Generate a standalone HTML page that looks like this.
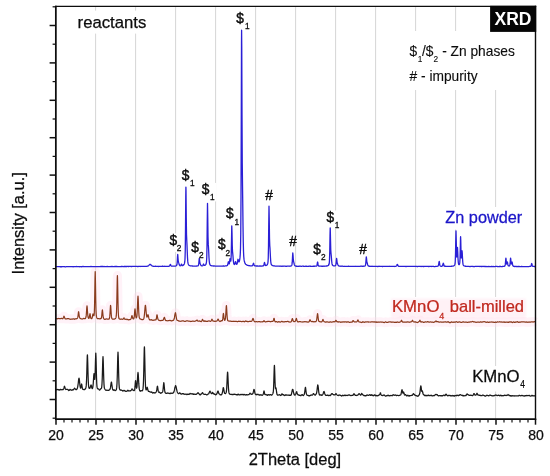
<!DOCTYPE html>
<html><head><meta charset="utf-8"><title>XRD</title>
<style>
html,body{margin:0;padding:0;background:#fff;}
svg{display:block;font-family:"Liberation Sans",Arial,sans-serif;}
text{stroke-width:0.25px;paint-order:stroke;}
.k{fill:#0c0c0c;stroke:#0c0c0c;}
.lb{font-size:13.75px;fill:#0c0c0c;stroke:#0c0c0c;}
.pk .lb{stroke-width:0.4px;}
.lg .lb,.lg .sb{stroke-width:0.12px;}
.sb{font-size:8.3px;fill:#0c0c0c;stroke:#0c0c0c;}
.pk .sb{stroke-width:0.3px;}
</style></head><body>
<svg width="550" height="476" viewBox="0 0 550 476">
<defs><filter id="bl" x="-5%" y="-20%" width="110%" height="140%"><feGaussianBlur stdDeviation="1.2"/></filter></defs>
<rect x="0" y="0" width="550" height="476" fill="#fff"/>
<g stroke="#d6d6d6" stroke-width="1" fill="none"><line x1="95.6" y1="6.4" x2="95.6" y2="419.1"/><line x1="135.6" y1="6.4" x2="135.6" y2="419.1"/><line x1="175.6" y1="6.4" x2="175.6" y2="419.1"/><line x1="215.6" y1="6.4" x2="215.6" y2="419.1"/><line x1="255.6" y1="6.4" x2="255.6" y2="419.1"/><line x1="295.6" y1="6.4" x2="295.6" y2="419.1"/><line x1="335.6" y1="6.4" x2="335.6" y2="419.1"/><line x1="375.6" y1="6.4" x2="375.6" y2="419.1"/><line x1="415.6" y1="6.4" x2="415.6" y2="419.1"/><line x1="455.6" y1="6.4" x2="455.6" y2="419.1"/><line x1="495.6" y1="6.4" x2="495.6" y2="419.1"/></g>
<rect x="76" y="10.6" width="74" height="23" fill="#fff"/>
<rect x="404" y="31" width="131" height="59" fill="#fff"/>
<rect x="443" y="207" width="82" height="22.5" fill="#fff"/>
<rect x="390" y="297" width="138" height="24" fill="#fff"/>
<rect x="391" y="298.5" width="135" height="20" fill="#ffe4ef" opacity="0.5" filter="url(#bl)"/>
<rect x="470" y="366" width="58" height="25.5" fill="#fff"/>
<rect x="235.3" y="11.2" width="16.2" height="18.3" fill="#fff"/><rect x="180.8" y="168.0" width="15.7" height="18.5" fill="#fff"/><rect x="200.8" y="182.9" width="15.7" height="18.5" fill="#fff"/><rect x="225.0" y="206.9" width="16.0" height="19.4" fill="#fff"/><rect x="325.5" y="210.5" width="15.8" height="18.3" fill="#fff"/><rect x="168.5" y="233.4" width="14.8" height="18.5" fill="#fff"/><rect x="190.3" y="240.1" width="15.3" height="18.7" fill="#fff"/><rect x="217.0" y="237.8" width="15.0" height="18.7" fill="#fff"/><rect x="312.3" y="242.0" width="15.2" height="18.6" fill="#fff"/>
<path d="M56.00 318.51L56.25 318.58L56.50 318.60L56.75 318.60L57.00 318.55L57.25 318.83L57.50 318.75L57.75 318.68L58.00 318.53L58.25 318.50L58.50 318.41L58.75 318.55L59.00 318.52L59.25 318.52L59.50 318.62L59.75 318.56L60.00 318.50L60.25 318.55L60.50 318.74L60.75 318.57L61.00 318.46L61.25 318.34L61.50 318.36L61.75 318.39L62.00 318.65L62.25 318.62L62.50 318.79L62.75 318.70L63.00 318.47L63.25 318.14L63.50 317.50L63.75 316.56L64.00 316.21L64.25 316.60L64.50 317.27L64.75 318.14L65.00 318.52L65.25 318.81L65.50 318.84L65.75 318.91L66.00 318.81L66.25 319.00L66.50 318.85L66.75 318.97L67.00 318.73L67.25 318.77L67.50 318.54L67.75 318.62L68.00 318.49L68.25 318.53L68.50 318.55L68.75 318.76L69.00 318.79L69.25 318.89L69.50 319.05L69.75 319.14L70.00 319.16L70.25 319.19L70.50 319.34L70.75 319.24L71.00 319.20L71.25 319.01L71.50 319.19L71.75 319.00L72.00 319.06L72.25 319.11L72.50 319.20L72.75 318.91L73.00 318.77L73.25 318.74L73.50 318.79L73.75 318.83L74.00 319.05L74.25 319.29L74.50 319.27L74.75 318.96L75.00 318.93L75.25 318.82L75.50 318.72L75.75 318.77L76.00 318.93L76.25 318.89L76.50 318.68L76.75 318.63L77.00 318.61L77.25 318.37L77.50 318.04L77.75 317.40L78.00 315.99L78.25 313.75L78.50 311.92L78.60 311.69L78.75 312.26L79.00 314.32L79.25 316.32L79.50 317.41L79.75 318.00L80.00 318.16L80.25 318.33L80.50 318.51L80.75 318.71L81.00 318.86L81.25 318.83L81.50 318.90L81.75 318.95L82.00 319.01L82.25 318.95L82.50 319.04L82.75 318.93L83.00 318.74L83.25 318.64L83.50 318.53L83.75 318.37L84.00 318.44L84.25 318.58L84.50 318.64L84.75 318.69L85.00 318.77L85.25 318.66L85.50 318.40L85.75 317.75L86.00 317.06L86.25 315.16L86.50 311.79L86.75 307.76L87.00 305.78L87.25 307.66L87.50 311.64L87.75 314.81L88.00 316.75L88.25 317.76L88.50 318.22L88.75 318.34L89.00 318.30L89.25 317.69L89.50 316.58L89.75 314.69L90.00 313.70L90.25 314.76L90.50 316.55L90.75 317.82L91.00 318.44L91.25 318.66L91.50 318.59L91.75 318.60L92.00 318.23L92.25 317.47L92.50 316.16L92.75 314.76L93.00 313.85L93.25 314.26L93.50 315.26L93.75 315.76L94.00 315.65L94.25 313.63L94.50 307.20L94.75 294.08L95.00 277.93L95.20 271.59L95.25 271.83L95.50 283.89L95.75 300.09L96.00 310.27L96.25 314.79L96.50 316.69L96.75 317.54L97.00 318.10L97.25 318.55L97.50 318.72L97.75 318.75L98.00 318.74L98.25 318.59L98.50 318.58L98.75 318.62L99.00 318.62L99.25 318.71L99.50 318.83L99.75 318.96L100.00 318.91L100.25 318.75L100.50 318.62L100.75 318.71L101.00 318.56L101.25 318.20L101.50 317.49L101.75 315.79L102.00 312.91L102.25 310.32L102.40 309.86L102.50 310.25L102.75 312.51L103.00 315.31L103.25 317.25L103.50 318.24L103.75 318.69L104.00 318.85L104.25 319.18L104.50 319.32L104.75 319.46L105.00 319.32L105.25 319.38L105.50 319.16L105.75 319.13L106.00 318.86L106.25 318.99L106.50 318.88L106.75 318.96L107.00 319.04L107.25 319.20L107.50 319.13L107.75 319.24L108.00 319.15L108.25 319.05L108.50 319.07L108.75 319.05L109.00 319.06L109.25 318.80L109.50 318.06L109.75 316.39L110.00 313.29L110.25 309.01L110.50 305.57L110.60 305.40L110.75 306.32L111.00 310.36L111.25 314.20L111.50 316.91L111.75 318.16L112.00 318.70L112.25 318.74L112.50 319.05L112.75 319.10L113.00 319.07L113.25 319.09L113.50 319.22L113.75 319.21L114.00 319.21L114.25 319.16L114.50 319.12L114.75 318.89L115.00 318.81L115.25 318.59L115.50 318.44L115.75 317.99L116.00 317.43L116.25 315.96L116.50 312.35L116.75 304.49L117.00 291.60L117.25 278.41L117.40 275.52L117.50 276.97L117.75 288.79L118.00 302.53L118.25 311.70L118.50 315.86L118.75 317.73L119.00 318.48L119.25 318.71L119.50 318.81L119.75 319.10L120.00 319.11L120.25 319.24L120.50 319.30L120.75 319.12L121.00 319.09L121.25 318.98L121.50 318.97L121.75 319.03L122.00 319.25L122.25 319.31L122.50 319.28L122.75 319.24L123.00 319.17L123.25 319.04L123.50 318.54L123.75 318.11L124.00 317.82L124.25 318.26L124.50 318.59L124.75 319.03L125.00 319.38L125.25 319.46L125.50 319.28L125.75 319.22L126.00 319.15L126.25 319.20L126.50 319.33L126.75 319.24L127.00 319.55L127.25 319.52L127.50 319.38L127.75 319.50L128.00 319.71L128.25 319.58L128.50 319.83L128.75 319.90L129.00 319.78L129.25 319.68L129.50 319.67L129.75 319.51L130.00 319.59L130.25 319.47L130.50 319.45L130.75 319.15L131.00 318.74L131.25 318.12L131.50 317.16L131.75 315.98L132.00 315.61L132.25 316.29L132.50 317.35L132.75 318.28L133.00 318.63L133.25 318.80L133.50 318.91L133.75 318.73L134.00 318.03L134.25 316.61L134.50 313.83L134.75 310.55L135.00 308.84L135.25 310.42L135.50 313.58L135.75 316.18L136.00 317.46L136.25 317.84L136.50 317.78L136.75 316.89L137.00 315.14L137.25 311.48L137.50 305.63L137.75 299.15L138.00 296.13L138.25 299.41L138.50 305.88L138.75 311.84L139.00 315.62L139.25 317.50L139.50 318.14L139.75 318.66L140.00 318.83L140.25 318.86L140.50 318.90L140.75 319.13L141.00 319.28L141.25 319.30L141.50 319.44L141.75 319.67L142.00 319.70L142.25 319.49L142.50 319.55L142.75 319.51L143.00 319.54L143.25 319.32L143.50 319.20L143.75 318.74L144.00 317.85L144.25 316.06L144.50 313.85L144.75 311.03L145.00 307.90L145.25 305.67L145.40 305.26L145.50 305.45L145.75 307.21L146.00 310.21L146.25 313.05L146.50 315.32L146.75 316.62L147.00 317.10L147.25 316.74L147.50 316.07L147.75 315.01L148.00 314.68L148.25 315.26L148.50 316.49L148.75 317.66L149.00 318.68L149.25 319.23L149.50 319.46L149.75 319.88L150.00 320.05L150.25 320.02L150.50 319.91L150.75 320.01L151.00 319.84L151.25 319.61L151.50 319.73L151.75 319.81L152.00 320.12L152.25 320.10L152.50 320.16L152.75 320.32L153.00 320.42L153.25 320.19L153.50 320.22L153.75 320.31L154.00 320.11L154.25 320.10L154.50 320.05L154.75 319.93L155.00 319.84L155.25 319.86L155.50 319.94L155.75 319.90L156.00 319.70L156.25 319.03L156.50 317.74L156.75 315.71L157.00 314.74L157.25 315.52L157.50 317.08L157.75 318.32L158.00 319.22L158.25 319.57L158.50 319.89L158.75 320.22L159.00 320.36L159.25 320.44L159.50 320.44L159.75 320.61L160.00 320.63L160.25 320.56L160.50 320.49L160.75 320.59L161.00 320.52L161.25 320.39L161.50 320.54L161.75 320.49L162.00 320.41L162.25 320.40L162.50 320.37L162.75 320.25L163.00 320.27L163.25 320.08L163.50 319.46L163.75 318.85L164.00 318.02L164.25 317.33L164.40 317.27L164.50 317.58L164.75 318.22L165.00 319.05L165.25 319.88L165.50 320.33L165.75 320.48L166.00 320.61L166.25 320.77L166.50 320.76L166.75 320.70L167.00 320.76L167.25 320.80L167.50 320.72L167.75 320.81L168.00 320.72L168.25 320.75L168.50 320.67L168.75 320.62L169.00 320.54L169.25 320.55L169.50 320.41L169.75 320.40L170.00 320.41L170.25 320.37L170.50 320.58L170.75 320.61L171.00 320.78L171.25 320.72L171.50 320.87L171.75 320.73L172.00 320.73L172.25 320.65L172.50 320.73L172.75 320.50L173.00 320.33L173.25 320.35L173.50 320.22L173.75 319.87L174.00 319.25L174.25 318.57L174.50 317.38L174.75 315.66L175.00 314.05L175.25 313.06L175.40 312.76L175.50 312.73L175.75 313.83L176.00 315.51L176.25 317.13L176.50 318.58L176.75 319.63L177.00 320.19L177.25 320.27L177.50 320.44L177.75 320.51L178.00 320.55L178.25 320.61L178.50 321.02L178.75 320.89L179.00 320.95L179.25 321.00L179.50 321.16L179.75 321.14L180.00 321.34L180.25 321.31L180.50 321.25L180.75 321.24L181.00 321.16L181.25 321.20L181.50 321.08L181.75 320.98L182.00 320.92L182.25 320.94L182.50 320.74L182.75 320.76L183.00 320.87L183.25 320.89L183.50 320.88L183.75 321.10L184.00 321.18L184.25 321.25L184.50 321.33L184.75 321.29L185.00 321.40L185.25 321.39L185.50 321.36L185.75 321.10L186.00 321.11L186.25 320.88L186.50 320.86L186.75 320.87L187.00 320.94L187.25 320.97L187.50 320.85L187.75 320.87L188.00 320.96L188.25 321.07L188.50 321.10L188.75 321.20L189.00 321.13L189.25 321.13L189.50 321.21L189.75 321.24L190.00 321.32L190.25 321.53L190.50 321.38L190.75 321.35L191.00 321.33L191.25 321.26L191.50 321.28L191.75 321.33L192.00 321.34L192.25 321.16L192.50 321.14L192.75 320.98L193.00 321.01L193.25 321.04L193.50 321.21L193.75 321.30L194.00 321.38L194.25 321.32L194.50 321.23L194.75 321.23L195.00 321.18L195.25 321.15L195.50 321.03L195.75 320.92L196.00 320.86L196.25 320.68L196.50 320.38L196.75 320.16L197.00 320.03L197.25 320.29L197.50 320.75L197.75 320.97L198.00 321.09L198.25 321.20L198.50 320.98L198.75 321.05L199.00 321.10L199.25 321.01L199.50 320.91L199.75 321.16L200.00 321.08L200.25 321.27L200.50 321.41L200.75 321.52L201.00 321.54L201.25 321.64L201.50 321.22L201.75 320.98L202.00 320.38L202.25 319.72L202.40 319.29L202.50 319.47L202.75 319.71L203.00 320.23L203.25 320.78L203.50 321.20L203.75 321.21L204.00 321.18L204.25 321.30L204.50 320.95L204.75 320.80L205.00 320.88L205.25 321.11L205.50 321.10L205.75 321.37L206.00 321.47L206.25 321.35L206.50 321.28L206.75 321.42L207.00 321.35L207.25 321.36L207.50 321.48L207.75 321.36L208.00 321.12L208.25 320.99L208.50 320.99L208.75 320.91L209.00 320.93L209.25 320.90L209.50 321.09L209.75 321.13L210.00 321.19L210.25 321.28L210.50 321.41L210.75 321.29L211.00 321.12L211.25 320.76L211.50 320.19L211.75 319.50L212.00 319.23L212.25 319.64L212.50 320.18L212.75 320.66L213.00 321.07L213.25 321.24L213.50 321.09L213.75 321.13L214.00 321.19L214.25 321.17L214.50 321.37L214.75 321.37L215.00 321.45L215.25 321.46L215.50 321.44L215.75 321.20L216.00 321.27L216.25 321.14L216.50 321.07L216.75 321.07L217.00 320.89L217.25 320.53L217.50 320.07L217.75 319.38L218.00 319.03L218.25 319.30L218.50 319.90L218.75 320.36L219.00 320.76L219.25 321.04L219.50 321.17L219.75 321.32L220.00 321.54L220.25 321.52L220.50 321.16L220.75 321.09L221.00 321.01L221.25 320.71L221.50 320.67L221.75 320.74L222.00 320.86L222.25 320.71L222.50 320.26L222.75 318.90L223.00 316.63L223.25 314.07L223.40 313.46L223.50 313.48L223.75 315.46L224.00 317.91L224.25 319.46L224.50 320.13L224.75 320.38L225.00 320.07L225.25 319.38L225.50 317.93L225.75 314.96L226.00 310.55L226.25 306.49L226.40 305.49L226.50 305.99L226.75 309.89L227.00 314.53L227.25 317.81L227.50 319.71L227.75 320.48L228.00 320.71L228.25 320.80L228.50 320.92L228.75 321.04L229.00 321.01L229.25 321.06L229.50 321.16L229.75 321.20L230.00 321.10L230.25 321.18L230.50 321.16L230.75 321.15L231.00 321.36L231.25 321.38L231.50 321.29L231.75 321.34L232.00 321.49L232.25 321.41L232.50 321.43L232.75 321.48L233.00 321.54L233.25 321.39L233.50 321.22L233.75 321.31L234.00 321.36L234.25 321.31L234.50 321.38L234.75 321.37L235.00 321.29L235.25 321.28L235.50 321.43L235.75 321.42L236.00 321.52L236.25 321.47L236.50 321.40L236.75 321.41L237.00 321.60L237.25 321.61L237.50 321.53L237.75 321.63L238.00 321.52L238.25 321.35L238.50 321.21L238.75 321.48L239.00 321.34L239.25 321.39L239.50 321.39L239.75 321.49L240.00 321.43L240.25 321.45L240.50 321.33L240.75 321.38L241.00 321.52L241.25 321.52L241.50 321.63L241.75 321.56L242.00 321.67L242.25 321.53L242.50 321.48L242.75 321.31L243.00 321.40L243.25 321.34L243.50 321.35L243.75 321.38L244.00 321.65L244.25 321.81L244.50 321.72L244.75 321.62L245.00 321.36L245.25 321.22L245.50 320.94L245.75 321.03L246.00 320.98L246.25 321.29L246.50 321.32L246.75 321.32L247.00 321.31L247.25 321.54L247.50 321.49L247.75 321.48L248.00 321.68L248.25 321.70L248.50 321.61L248.75 321.57L249.00 321.46L249.25 321.47L249.50 321.30L249.75 321.31L250.00 321.20L250.25 321.38L250.50 321.31L250.75 321.32L251.00 321.33L251.25 321.36L251.50 321.25L251.75 321.05L252.00 320.80L252.25 320.22L252.50 319.39L252.75 318.70L253.00 318.46L253.25 318.68L253.50 319.42L253.75 320.37L254.00 320.95L254.25 321.34L254.50 321.69L254.75 321.70L255.00 321.84L255.25 321.80L255.50 321.67L255.75 321.74L256.00 321.73L256.25 321.63L256.50 321.57L256.75 321.73L257.00 321.72L257.25 321.75L257.50 321.73L257.75 321.87L258.00 321.77L258.25 321.71L258.50 321.74L258.75 321.64L259.00 321.49L259.25 321.53L259.50 321.53L259.75 321.62L260.00 321.72L260.25 321.87L260.50 321.82L260.75 321.92L261.00 321.78L261.25 321.81L261.50 321.74L261.75 321.75L262.00 321.77L262.25 321.89L262.50 321.72L262.75 321.76L263.00 321.71L263.25 321.59L263.50 321.23L263.75 320.94L264.00 320.63L264.25 320.86L264.50 321.16L264.75 321.57L265.00 321.78L265.25 321.85L265.50 321.87L265.75 321.86L266.00 321.74L266.25 321.77L266.50 321.66L266.75 321.76L267.00 321.61L267.25 321.56L267.50 321.29L267.75 321.29L268.00 321.30L268.25 321.34L268.50 321.33L268.75 321.36L269.00 321.39L269.25 321.30L269.50 321.44L269.75 321.53L270.00 321.62L270.25 321.69L270.50 321.78L270.75 321.62L271.00 321.64L271.25 321.54L271.50 321.45L271.75 321.43L272.00 321.50L272.25 321.42L272.50 321.39L272.75 321.41L273.00 321.29L273.25 320.78L273.50 319.91L273.75 318.87L274.00 318.37L274.25 318.72L274.50 320.04L274.75 320.96L275.00 321.52L275.25 321.79L275.50 321.83L275.75 321.58L276.00 321.52L276.25 321.52L276.50 321.58L276.75 321.61L277.00 321.89L277.25 322.05L277.50 322.21L277.75 322.08L278.00 322.04L278.25 321.73L278.50 321.76L278.75 321.60L279.00 321.62L279.25 321.78L279.50 322.01L279.75 322.01L280.00 322.07L280.25 322.06L280.50 322.12L280.75 321.90L281.00 321.74L281.25 321.60L281.50 321.51L281.75 321.30L282.00 321.46L282.25 321.50L282.50 321.77L282.75 321.82L283.00 321.98L283.25 321.87L283.50 321.95L283.75 321.85L284.00 321.85L284.25 321.86L284.50 321.83L284.75 321.72L285.00 321.59L285.25 321.69L285.50 321.58L285.75 321.55L286.00 321.68L286.25 321.75L286.50 321.56L286.75 321.54L287.00 321.58L287.25 321.40L287.50 321.39L287.75 321.40L288.00 321.39L288.25 321.50L288.50 321.74L288.75 321.86L289.00 321.92L289.25 322.07L289.50 321.98L289.75 321.98L290.00 321.88L290.25 321.94L290.50 322.04L290.75 322.12L291.00 321.91L291.25 321.64L291.50 321.22L291.75 320.30L292.00 319.46L292.25 318.63L292.40 318.61L292.50 318.74L292.75 319.50L293.00 320.28L293.25 321.02L293.50 321.35L293.75 321.51L294.00 321.68L294.25 321.60L294.50 321.56L294.75 321.52L295.00 321.41L295.25 321.27L295.50 320.87L295.75 320.15L296.00 319.26L296.25 318.58L296.40 318.43L296.50 318.64L296.75 319.67L297.00 320.66L297.25 321.15L297.50 321.45L297.75 321.81L298.00 321.82L298.25 321.78L298.50 321.77L298.75 321.85L299.00 321.64L299.25 321.54L299.50 321.67L299.75 321.68L300.00 321.56L300.25 321.68L300.50 321.71L300.75 321.76L301.00 321.85L301.25 321.98L301.50 322.02L301.75 321.99L302.00 321.96L302.25 322.07L302.50 322.00L302.75 321.90L303.00 321.93L303.25 321.98L303.50 321.87L303.75 321.84L304.00 321.78L304.25 321.80L304.50 321.57L304.75 321.65L305.00 321.62L305.25 321.62L305.50 321.71L305.75 321.85L306.00 321.81L306.25 321.80L306.50 321.97L306.75 321.91L307.00 321.89L307.25 321.92L307.50 322.09L307.75 322.01L308.00 322.10L308.25 322.12L308.50 322.00L308.75 321.90L309.00 321.77L309.25 321.43L309.50 320.83L309.75 320.13L310.00 319.73L310.25 320.13L310.50 320.55L310.75 321.00L311.00 321.33L311.25 321.53L311.50 321.58L311.75 321.71L312.00 321.71L312.25 321.56L312.50 321.51L312.75 321.42L313.00 321.47L313.25 321.68L313.50 321.78L313.75 321.91L314.00 321.90L314.25 321.85L314.50 321.77L314.75 321.67L315.00 321.73L315.25 321.71L315.50 321.78L315.75 321.65L316.00 321.58L316.25 321.08L316.50 320.54L316.75 319.30L317.00 317.42L317.25 315.38L317.50 313.67L317.60 313.58L317.75 314.27L318.00 316.41L318.25 318.53L318.50 320.25L318.75 321.13L319.00 321.44L319.25 321.58L319.50 321.59L319.75 321.62L320.00 321.61L320.25 321.69L320.50 321.85L320.75 321.98L321.00 321.98L321.25 322.01L321.50 322.02L321.75 321.72L322.00 321.47L322.25 321.10L322.50 320.63L322.75 319.68L323.00 319.46L323.25 319.92L323.50 320.72L323.75 321.14L324.00 321.46L324.25 321.70L324.50 321.80L324.75 321.77L325.00 321.87L325.25 322.11L325.50 322.03L325.75 322.02L326.00 322.06L326.25 322.03L326.50 321.91L326.75 321.93L327.00 321.94L327.25 321.82L327.50 321.93L327.75 322.02L328.00 322.06L328.25 322.07L328.50 322.13L328.75 322.21L329.00 322.31L329.25 322.27L329.50 322.17L329.75 322.01L330.00 321.89L330.25 321.81L330.50 321.89L330.75 321.80L331.00 322.10L331.25 322.14L331.50 322.07L331.75 322.00L332.00 322.08L332.25 322.01L332.50 321.93L332.75 321.96L333.00 321.99L333.25 321.91L333.50 321.79L333.75 321.61L334.00 321.69L334.25 321.70L334.50 321.80L334.75 321.78L335.00 321.76L335.25 321.31L335.50 320.93L335.75 320.52L336.00 320.33L336.25 320.68L336.50 321.30L336.75 321.60L337.00 321.75L337.25 321.96L337.50 321.73L337.75 321.65L338.00 321.81L338.25 321.91L338.50 321.79L338.75 322.04L339.00 322.02L339.25 321.89L339.50 321.90L339.75 321.93L340.00 321.93L340.25 322.09L340.50 322.28L340.75 322.05L341.00 322.09L341.25 322.10L341.50 322.07L341.75 321.93L342.00 322.11L342.25 322.11L342.50 322.00L342.75 321.79L343.00 321.88L343.25 321.97L343.50 321.83L343.75 322.00L344.00 322.06L344.25 322.04L344.50 321.87L344.75 321.97L345.00 321.82L345.25 321.85L345.50 321.84L345.75 322.01L346.00 321.92L346.25 322.12L346.50 322.09L346.75 321.92L347.00 321.84L347.25 322.09L347.50 321.92L347.75 321.87L348.00 321.95L348.25 322.01L348.50 321.89L348.75 321.97L349.00 322.18L349.25 322.41L349.50 322.40L349.75 322.39L350.00 322.35L350.25 322.30L350.50 322.22L350.75 322.24L351.00 322.11L351.25 322.18L351.50 322.26L351.75 322.13L352.00 322.16L352.25 322.11L352.50 321.53L352.75 320.91L353.00 320.56L353.25 320.58L353.50 320.86L353.75 321.38L354.00 321.69L354.25 321.72L354.50 321.87L354.75 321.95L355.00 322.03L355.25 321.95L355.50 321.92L355.75 321.84L356.00 321.88L356.25 321.81L356.50 321.80L356.75 321.84L357.00 321.62L357.25 321.21L357.50 320.61L357.75 320.09L358.00 319.96L358.25 320.37L358.50 321.00L358.75 321.56L359.00 321.91L359.25 322.03L359.50 321.95L359.75 322.02L360.00 322.05L360.25 322.00L360.50 322.12L360.75 322.26L361.00 322.25L361.25 322.43L361.50 322.54L361.75 322.51L362.00 322.48L362.25 322.25L362.50 321.87L362.75 321.69L363.00 321.81L363.25 321.79L363.50 321.92L363.75 322.18L364.00 322.36L364.25 322.19L364.50 322.26L364.75 322.33L365.00 322.25L365.25 322.10L365.50 321.88L365.75 321.82L366.00 321.78L366.25 321.84L366.50 321.97L366.75 322.04L367.00 321.94L367.25 322.01L367.50 321.84L367.75 321.77L368.00 321.89L368.25 322.03L368.50 321.90L368.75 322.08L369.00 321.96L369.25 322.02L369.50 321.98L369.75 322.01L370.00 321.98L370.25 322.19L370.50 322.03L370.75 322.01L371.00 321.94L371.25 322.01L371.50 321.96L371.75 321.97L372.00 321.96L372.25 321.97L372.50 321.89L372.75 321.92L373.00 321.95L373.25 321.97L373.50 321.92L373.75 322.07L374.00 321.88L374.25 321.94L374.50 321.90L374.75 322.14L375.00 321.97L375.25 322.04L375.50 321.91L375.75 322.05L376.00 321.81L376.25 321.96L376.50 322.11L376.75 322.38L377.00 322.20L377.25 322.29L377.50 322.18L377.75 322.17L378.00 321.92L378.25 322.11L378.50 322.08L378.75 322.12L379.00 322.04L379.25 322.15L379.50 322.04L379.75 322.20L380.00 321.99L380.25 322.07L380.50 322.01L380.75 321.99L381.00 321.87L381.25 322.07L381.50 322.02L381.75 322.04L382.00 321.98L382.25 322.20L382.50 322.13L382.75 322.14L383.00 322.15L383.25 322.32L383.50 322.29L383.75 322.40L384.00 322.49L384.25 322.67L384.50 322.40L384.75 322.23L385.00 322.04L385.25 321.95L385.50 321.83L385.75 321.91L386.00 322.11L386.25 322.23L386.50 322.32L386.75 322.24L387.00 322.42L387.25 322.39L387.50 322.35L387.75 322.24L388.00 322.29L388.25 322.18L388.50 322.10L388.75 321.97L389.00 322.00L389.25 322.01L389.50 321.93L389.75 321.97L390.00 321.96L390.25 321.80L390.50 321.89L390.75 322.05L391.00 321.93L391.25 322.22L391.50 322.29L391.75 322.17L392.00 322.13L392.25 322.24L392.50 322.16L392.75 322.11L393.00 322.09L393.25 322.14L393.50 322.18L393.75 322.16L394.00 322.31L394.25 322.42L394.50 322.29L394.75 322.17L395.00 322.33L395.25 322.23L395.50 322.23L395.75 322.20L396.00 322.48L396.25 322.23L396.50 322.31L396.75 322.29L397.00 322.27L397.25 321.99L397.50 322.15L397.75 322.04L398.00 322.07L398.25 322.18L398.50 322.30L398.75 322.39L399.00 322.35L399.25 322.30L399.50 322.25L399.75 322.06L400.00 321.85L400.25 321.92L400.50 321.86L400.75 321.79L401.00 321.36L401.25 320.87L401.50 320.31L401.60 320.25L401.75 320.38L402.00 321.00L402.25 321.43L402.50 321.92L402.75 322.11L403.00 322.14L403.25 322.10L403.50 322.12L403.75 322.21L404.00 322.15L404.25 322.12L404.50 322.17L404.75 322.26L405.00 322.20L405.25 322.17L405.50 322.13L405.75 322.10L406.00 322.06L406.25 322.07L406.50 321.97L406.75 322.13L407.00 322.07L407.25 322.06L407.50 321.92L407.75 321.99L408.00 321.85L408.25 321.99L408.50 322.00L408.75 322.16L409.00 322.17L409.25 322.31L409.50 322.13L409.75 322.12L410.00 322.07L410.25 322.05L410.50 321.90L410.75 321.95L411.00 321.92L411.25 321.79L411.50 321.71L411.75 321.38L412.00 320.95L412.25 320.41L412.40 320.25L412.50 320.30L412.75 320.80L413.00 321.30L413.25 321.60L413.50 321.83L413.75 321.95L414.00 321.78L414.25 321.86L414.50 321.94L414.75 322.06L415.00 321.86L415.25 322.04L415.50 321.93L415.75 322.00L416.00 322.08L416.25 322.19L416.50 322.31L416.75 322.40L417.00 322.42L417.25 322.47L417.50 322.57L417.75 322.45L418.00 322.24L418.25 322.09L418.50 321.91L418.75 321.71L419.00 321.46L419.25 321.45L419.50 320.97L419.75 320.33L420.00 320.19L420.25 320.71L420.50 321.11L420.75 321.67L421.00 322.07L421.25 322.07L421.50 321.87L421.75 321.99L422.00 321.91L422.25 321.80L422.50 322.02L422.75 321.94L423.00 322.07L423.25 322.29L423.50 322.31L423.75 322.25L424.00 322.43L424.25 322.19L424.50 322.02L424.75 322.01L425.00 322.04L425.25 321.92L425.50 321.89L425.75 321.91L426.00 321.91L426.25 321.96L426.50 322.02L426.75 322.07L427.00 322.03L427.25 322.02L427.50 321.66L427.75 321.70L428.00 321.70L428.25 321.74L428.50 321.91L428.75 322.17L429.00 322.23L429.25 322.21L429.50 322.23L429.75 322.08L430.00 321.96L430.25 321.88L430.50 321.91L430.75 322.01L431.00 321.99L431.25 322.14L431.50 322.19L431.75 322.22L432.00 322.18L432.25 322.21L432.50 322.06L432.75 322.11L433.00 322.10L433.25 322.42L433.50 322.35L433.75 322.26L434.00 322.27L434.25 322.25L434.50 321.81L434.75 321.79L435.00 321.82L435.25 321.49L435.50 321.34L435.75 321.04L436.00 320.97L436.25 321.20L436.50 321.58L436.75 321.73L437.00 321.84L437.25 321.78L437.50 321.62L437.75 321.67L438.00 321.67L438.25 321.73L438.50 321.88L438.75 322.04L439.00 322.07L439.25 322.16L439.50 322.18L439.75 322.07L440.00 322.08L440.25 321.98L440.50 321.94L440.75 321.89L441.00 322.02L441.25 322.05L441.50 322.05L441.75 322.11L442.00 322.19L442.25 322.14L442.50 322.18L442.75 322.17L443.00 322.14L443.25 322.01L443.50 322.11L443.75 321.97L444.00 321.98L444.25 321.93L444.50 322.08L444.75 321.96L445.00 321.90L445.25 321.93L445.50 321.99L445.75 321.92L446.00 322.03L446.25 322.22L446.50 322.14L446.75 322.16L447.00 322.24L447.25 322.05L447.50 321.85L447.75 321.72L448.00 321.80L448.25 321.72L448.50 321.82L448.75 321.99L449.00 322.32L449.25 322.24L449.50 322.42L449.75 322.57L450.00 322.84L450.25 322.62L450.50 322.54L450.75 322.34L451.00 322.28L451.25 321.89L451.50 322.03L451.75 321.91L452.00 322.06L452.25 322.05L452.50 322.25L452.75 322.24L453.00 322.42L453.25 322.36L453.50 322.14L453.75 321.99L454.00 321.94L454.25 322.08L454.50 322.06L454.75 322.10L455.00 322.31L455.25 322.21L455.50 322.06L455.75 321.96L456.00 321.79L456.25 321.67L456.50 321.71L456.75 321.77L457.00 321.80L457.25 322.16L457.50 322.23L457.75 322.33L458.00 322.25L458.25 322.26L458.50 322.21L458.75 321.95L459.00 321.91L459.25 321.98L459.50 321.89L459.75 321.78L460.00 322.06L460.25 322.05L460.50 322.15L460.75 322.33L461.00 322.50L461.25 322.36L461.50 322.51L461.75 322.47L462.00 322.41L462.25 322.19L462.50 322.06L462.75 321.90L463.00 321.69L463.25 321.75L463.50 321.95L463.75 322.10L464.00 322.16L464.25 322.26L464.50 322.25L464.75 322.23L465.00 322.09L465.25 322.03L465.50 322.02L465.75 322.06L466.00 322.01L466.25 322.02L466.50 322.19L466.75 322.26L467.00 322.28L467.25 322.46L467.50 322.51L467.75 322.44L468.00 322.39L468.25 322.19L468.50 322.07L468.75 322.12L469.00 322.07L469.25 322.03L469.50 322.11L469.75 321.99L470.00 322.04L470.25 321.82L470.50 321.84L470.75 321.82L471.00 321.87L471.25 321.82L471.50 321.96L471.75 321.81L472.00 321.67L472.25 321.54L472.50 321.45L472.75 321.45L473.00 321.57L473.25 321.76L473.50 321.94L473.75 321.97L474.00 321.87L474.25 321.87L474.50 321.81L474.75 321.94L475.00 322.06L475.25 322.12L475.50 322.15L475.75 322.32L476.00 322.19L476.25 322.20L476.50 322.30L476.75 322.33L477.00 322.28L477.25 322.21L477.50 322.06L477.75 322.01L478.00 322.08L478.25 322.05L478.50 322.00L478.75 322.15L479.00 322.23L479.25 322.21L479.50 322.21L479.75 322.33L480.00 322.06L480.25 322.04L480.50 321.80L480.75 321.76L481.00 321.91L481.25 322.10L481.50 322.11L481.75 322.22L482.00 322.26L482.25 321.99L482.50 321.95L482.75 321.94L483.00 321.97L483.25 321.84L483.50 321.75L483.75 321.71L484.00 321.61L484.25 321.58L484.50 321.72L484.75 321.77L485.00 321.89L485.25 321.84L485.50 322.11L485.75 322.17L486.00 322.39L486.25 322.25L486.50 322.38L486.75 322.18L487.00 322.02L487.25 321.91L487.50 322.08L487.75 322.08L488.00 322.24L488.25 322.40L488.50 322.44L488.75 322.40L489.00 322.41L489.25 322.13L489.50 322.08L489.75 322.01L490.00 322.08L490.25 322.16L490.50 322.06L490.75 322.02L491.00 322.00L491.25 322.02L491.50 321.92L491.75 322.16L492.00 322.20L492.25 322.21L492.50 322.07L492.75 322.20L493.00 322.12L493.25 322.12L493.50 322.18L493.75 322.37L494.00 322.43L494.25 322.48L494.50 322.41L494.75 322.48L495.00 322.27L495.25 322.09L495.50 322.04L495.75 322.21L496.00 322.36L496.25 322.41L496.50 322.29L496.75 322.21L497.00 322.11L497.25 321.83L497.50 321.73L497.75 321.88L498.00 321.96L498.25 322.02L498.50 321.99L498.75 322.05L499.00 321.93L499.25 321.99L499.50 321.72L499.75 321.79L500.00 321.87L500.25 321.91L500.50 321.92L500.75 322.04L501.00 322.09L501.25 321.97L501.50 322.08L501.75 321.96L502.00 321.99L502.25 322.04L502.50 322.01L502.75 322.03L503.00 322.20L503.25 322.24L503.50 322.00L503.75 322.21L504.00 322.04L504.25 321.96L504.50 321.98L504.75 322.31L505.00 322.17L505.25 322.20L505.50 322.26L505.75 322.36L506.00 322.13L506.25 322.18L506.50 322.26L506.75 322.22L507.00 322.05L507.25 322.17L507.50 322.17L507.75 322.39L508.00 322.21L508.25 322.38L508.50 322.36L508.75 322.22L509.00 321.87L509.25 322.16L509.50 321.87L509.75 322.02L510.00 321.99L510.25 322.16L510.50 321.95L510.75 321.97L511.00 321.75L511.25 322.05L511.50 322.03L511.75 322.14L512.00 322.35L512.25 322.51L512.50 322.26L512.75 322.29L513.00 322.27L513.25 322.15L513.50 321.85L513.75 322.02L514.00 322.05L514.25 322.00L514.50 322.35L514.75 322.44L515.00 322.33L515.25 322.28L515.50 322.26L515.75 321.93L516.00 322.17L516.25 322.10L516.50 321.90L516.75 321.91L517.00 321.82L517.25 321.64L517.50 321.67L517.75 321.84L518.00 322.10L518.25 322.18L518.50 322.41L518.75 322.47L519.00 322.42L519.25 322.03L519.50 322.04L519.75 321.90L520.00 322.14L520.25 322.03L520.50 322.14L520.75 322.09L521.00 322.02L521.25 321.78L521.50 321.86L521.75 321.91L522.00 321.85L522.25 321.78L522.50 321.81L522.75 321.99L523.00 321.94L523.25 321.86L523.50 321.90L523.75 321.88L524.00 321.77L524.25 321.94L524.50 322.01L524.75 322.03L525.00 321.97L525.25 322.13L525.50 322.05L525.75 322.12L526.00 322.07L526.25 322.21L526.50 321.93L526.75 322.01L527.00 322.13L527.25 322.26L527.50 322.19L527.75 322.32L528.00 322.29L528.25 322.18L528.50 322.22L528.75 322.07L529.00 322.19L529.25 322.11L529.50 322.23L529.75 322.18L530.00 322.26L530.25 322.13L530.50 322.09L530.75 322.05L531.00 321.89L531.25 321.81L531.50 321.91L531.75 322.00L532.00 321.84L532.25 322.02L532.50 322.03L532.75 321.95L533.00 321.80L533.25 321.95L533.50 321.89L533.75 322.03L534.00 321.84L534.25 321.85L534.50 321.65L534.75 321.62L535.00 321.59L535.25 321.78L535.50 321.89" fill="none" stroke="#ffd9ea" stroke-width="9" stroke-opacity="0.35" stroke-linejoin="round"/>
<path d="M56.00 390.06L56.25 389.83L56.50 389.80L56.75 389.54L57.00 389.48L57.25 389.39L57.50 389.61L57.75 389.59L58.00 389.48L58.25 389.60L58.50 389.78L58.75 390.00L59.00 390.07L59.25 390.18L59.50 390.01L59.75 389.71L60.00 389.62L60.25 389.48L60.50 389.38L60.75 389.42L61.00 389.79L61.25 389.69L61.50 389.70L61.75 389.75L62.00 389.84L62.25 389.62L62.50 389.47L62.75 389.52L63.00 389.58L63.25 389.52L63.50 388.99L63.75 388.40L64.00 387.63L64.25 386.68L64.40 386.22L64.50 386.30L64.75 386.99L65.00 387.78L65.25 388.52L65.50 389.16L65.75 389.50L66.00 389.29L66.25 389.29L66.50 389.46L66.75 389.29L67.00 389.35L67.25 389.30L67.50 389.35L67.75 389.56L68.00 389.78L68.25 389.91L68.50 390.33L68.75 390.55L69.00 390.29L69.25 390.29L69.50 389.93L69.75 389.72L70.00 389.30L70.25 389.57L70.50 389.63L70.75 389.83L71.00 390.12L71.25 390.27L71.50 390.15L71.75 390.00L72.00 389.88L72.25 389.71L72.50 390.01L72.75 389.82L73.00 389.84L73.25 389.80L73.50 389.71L73.75 389.14L74.00 388.90L74.25 388.51L74.40 388.48L74.50 388.12L74.75 388.52L75.00 388.69L75.25 389.02L75.50 389.32L75.75 389.52L76.00 389.41L76.25 389.72L76.50 389.64L76.75 389.36L77.00 388.93L77.25 388.46L77.50 387.65L77.75 386.55L78.00 384.95L78.25 383.22L78.50 380.85L78.75 378.84L79.00 378.13L79.25 378.98L79.50 380.93L79.75 383.64L80.00 385.85L80.25 387.11L80.50 388.01L80.75 388.16L81.00 387.20L81.25 385.53L81.50 384.25L81.60 384.02L81.75 384.44L82.00 386.01L82.25 387.62L82.50 388.71L82.75 389.23L83.00 389.42L83.25 389.36L83.50 389.51L83.75 389.64L84.00 389.73L84.25 389.51L84.50 389.70L84.75 389.48L85.00 389.32L85.25 389.01L85.50 388.66L85.75 388.12L86.00 387.40L86.25 385.39L86.50 381.41L86.75 374.36L87.00 364.65L87.25 356.32L87.40 354.84L87.50 355.68L87.75 362.95L88.00 372.83L88.25 380.58L88.50 384.95L88.75 387.20L89.00 388.16L89.25 388.28L89.50 388.37L89.75 388.36L90.00 387.90L90.25 387.35L90.50 386.36L90.75 385.42L91.00 384.93L91.25 385.41L91.50 386.49L91.75 387.73L92.00 388.26L92.25 388.63L92.50 388.36L92.75 387.57L93.00 385.95L93.25 383.36L93.50 379.30L93.75 375.54L94.00 373.57L94.25 375.01L94.50 377.72L94.75 379.34L95.00 377.09L95.25 369.87L95.50 360.06L95.75 353.49L95.80 353.10L96.00 356.97L96.25 367.34L96.50 377.04L96.75 383.59L97.00 386.86L97.25 387.97L97.50 388.62L97.75 388.87L98.00 388.77L98.25 388.84L98.50 388.98L98.75 389.24L99.00 389.38L99.25 389.83L99.50 390.07L99.75 390.02L100.00 389.85L100.25 389.48L100.50 389.07L100.75 388.74L101.00 388.67L101.25 388.47L101.50 388.08L101.75 386.82L102.00 383.83L102.25 378.18L102.50 369.72L102.75 360.87L103.00 356.60L103.25 361.30L103.50 370.45L103.75 378.84L104.00 384.33L104.25 387.34L104.50 388.44L104.75 388.88L105.00 389.26L105.25 389.62L105.50 389.97L105.75 390.20L106.00 390.27L106.25 390.32L106.50 390.22L106.75 390.02L107.00 390.15L107.25 390.13L107.50 390.34L107.75 390.36L108.00 390.46L108.25 390.36L108.50 390.41L108.75 390.20L109.00 390.18L109.25 390.04L109.50 389.79L109.75 389.52L110.00 389.29L110.25 388.58L110.50 387.66L110.75 385.69L111.00 383.92L111.25 382.39L111.40 382.10L111.50 382.14L111.75 383.76L112.00 385.54L112.25 387.26L112.50 388.93L112.75 389.63L113.00 390.02L113.25 390.21L113.50 390.27L113.75 389.81L114.00 389.77L114.25 390.03L114.50 390.20L114.75 390.23L115.00 390.47L115.25 390.66L115.50 390.32L115.75 390.30L116.00 390.14L116.25 389.69L116.50 389.01L116.75 387.14L117.00 383.46L117.25 376.95L117.50 367.20L117.75 356.70L118.00 352.06L118.25 356.91L118.50 367.49L118.75 377.32L119.00 383.75L119.25 387.36L119.50 388.93L119.75 389.38L120.00 389.70L120.25 390.15L120.50 389.99L120.75 390.25L121.00 390.26L121.25 390.17L121.50 390.17L121.75 390.30L122.00 390.46L122.25 390.56L122.50 390.83L122.75 390.75L123.00 391.01L123.25 390.61L123.50 390.59L123.75 390.45L124.00 390.51L124.25 390.41L124.50 390.74L124.75 390.66L125.00 390.98L125.25 391.25L125.50 391.26L125.75 391.20L126.00 391.36L126.25 391.30L126.50 391.27L126.75 391.16L127.00 391.11L127.25 390.96L127.50 390.68L127.75 390.26L128.00 390.47L128.25 390.41L128.50 390.74L128.75 391.00L129.00 391.08L129.25 390.92L129.50 390.99L129.75 390.98L130.00 390.76L130.25 390.68L130.50 390.76L130.75 390.77L131.00 390.28L131.25 390.17L131.50 389.80L131.75 389.27L132.00 388.85L132.25 389.19L132.50 389.56L132.75 389.82L133.00 390.20L133.25 390.30L133.50 390.38L133.75 390.21L134.00 390.65L134.25 390.45L134.50 390.25L134.75 389.16L135.00 386.94L135.25 383.39L135.50 380.90L135.60 380.61L135.75 381.02L136.00 383.80L136.25 386.83L136.50 388.14L136.75 387.97L137.00 386.52L137.25 383.13L137.50 378.42L137.75 374.39L138.00 372.47L138.25 374.20L138.50 378.44L138.75 383.16L139.00 386.35L139.25 388.66L139.50 389.94L139.75 390.76L140.00 390.84L140.25 391.29L140.50 390.90L140.75 390.78L141.00 390.63L141.25 390.69L141.50 390.65L141.75 390.96L142.00 390.93L142.25 390.78L142.50 390.65L142.75 389.87L143.00 388.65L143.25 386.01L143.50 380.76L143.75 371.52L144.00 359.64L144.25 349.07L144.40 346.89L144.50 347.89L144.75 357.20L145.00 369.59L145.25 379.64L145.50 385.83L145.75 388.59L146.00 389.80L146.25 389.85L146.50 389.61L146.75 388.39L147.00 387.66L147.20 387.26L147.25 387.34L147.50 388.08L147.75 389.34L148.00 390.23L148.25 390.94L148.50 391.39L148.75 391.26L149.00 391.54L149.25 391.64L149.50 391.69L149.75 391.66L150.00 391.99L150.25 391.94L150.50 392.07L150.75 392.24L151.00 392.28L151.25 391.93L151.50 391.97L151.75 392.07L152.00 392.23L152.25 392.53L152.50 392.96L152.75 393.04L153.00 392.92L153.25 392.81L153.50 392.67L153.75 392.75L154.00 392.64L154.25 392.79L154.50 392.88L154.75 393.01L155.00 392.88L155.25 392.90L155.50 392.76L155.75 392.54L156.00 392.08L156.25 391.78L156.50 391.18L156.75 389.94L157.00 388.24L157.25 386.64L157.40 386.25L157.50 386.23L157.75 387.60L158.00 389.54L158.25 391.15L158.50 391.81L158.75 392.29L159.00 392.40L159.25 392.16L159.50 392.13L159.75 392.52L160.00 392.78L160.25 392.83L160.50 393.15L160.75 393.40L161.00 393.13L161.25 392.91L161.50 392.94L161.75 392.80L162.00 392.39L162.25 392.34L162.50 392.12L162.75 391.47L163.00 390.06L163.25 387.64L163.50 384.92L163.75 383.03L163.80 382.65L164.00 383.45L164.25 386.24L164.50 388.97L164.75 390.91L165.00 392.35L165.25 392.81L165.50 393.05L165.75 393.23L166.00 393.36L166.25 393.22L166.50 393.39L166.75 393.41L167.00 393.25L167.25 393.18L167.50 393.07L167.75 392.87L168.00 393.17L168.25 393.15L168.50 393.23L168.75 393.29L169.00 393.30L169.25 393.27L169.50 393.50L169.75 393.43L170.00 393.58L170.25 393.55L170.50 393.27L170.75 393.05L171.00 393.02L171.25 393.05L171.50 393.22L171.75 393.37L172.00 393.44L172.25 393.36L172.50 393.27L172.75 393.01L173.00 392.95L173.25 392.85L173.50 392.81L173.75 392.33L174.00 391.57L174.25 390.71L174.50 389.72L174.75 388.23L175.00 387.07L175.25 386.42L175.50 385.61L175.60 385.63L175.75 385.90L176.00 386.44L176.25 387.57L176.50 389.00L176.75 389.92L177.00 391.13L177.25 391.87L177.50 392.55L177.75 392.86L178.00 393.26L178.25 393.29L178.50 393.69L178.75 393.60L179.00 393.49L179.25 393.24L179.50 392.92L179.60 392.75L179.75 392.74L180.00 393.15L180.25 393.30L180.50 393.62L180.75 393.76L181.00 393.96L181.25 394.15L181.50 394.14L181.75 393.81L182.00 393.75L182.25 393.65L182.50 393.61L182.75 393.64L183.00 394.01L183.25 393.89L183.50 393.71L183.75 393.73L184.00 394.11L184.25 394.04L184.50 394.13L184.75 394.37L185.00 394.44L185.25 394.29L185.50 394.19L185.75 394.22L186.00 394.17L186.25 394.14L186.50 394.23L186.75 394.54L187.00 394.55L187.25 394.47L187.50 394.42L187.75 394.20L188.00 394.00L188.25 394.15L188.50 394.25L188.75 394.43L189.00 394.44L189.25 394.26L189.50 394.01L189.75 393.85L190.00 393.56L190.25 393.35L190.50 393.57L190.75 393.78L191.00 393.86L191.25 393.88L191.50 393.92L191.75 393.73L192.00 393.94L192.25 393.72L192.50 393.85L192.75 394.14L193.00 394.27L193.25 394.00L193.50 394.37L193.75 394.22L194.00 394.20L194.25 394.36L194.50 394.27L194.75 394.07L195.00 394.23L195.25 394.28L195.50 394.26L195.75 394.47L196.00 394.48L196.25 394.31L196.50 394.19L196.75 394.00L197.00 393.63L197.25 393.46L197.50 393.28L197.75 393.01L198.00 392.68L198.25 393.05L198.50 393.26L198.75 393.53L199.00 393.65L199.25 394.11L199.50 394.52L199.75 394.73L200.00 394.85L200.25 394.99L200.50 394.63L200.75 394.29L201.00 394.05L201.25 394.07L201.50 393.88L201.75 393.71L202.00 393.02L202.25 392.98L202.40 392.73L202.50 392.60L202.75 392.97L203.00 393.36L203.25 393.63L203.50 394.01L203.75 394.18L204.00 394.20L204.25 394.33L204.50 394.37L204.75 394.29L205.00 394.25L205.25 394.17L205.50 394.40L205.75 394.47L206.00 394.50L206.25 394.60L206.50 394.83L206.75 394.92L207.00 394.78L207.25 394.70L207.50 394.52L207.75 394.32L208.00 394.14L208.25 394.12L208.50 393.90L208.75 393.67L209.00 393.10L209.25 392.61L209.50 391.82L209.75 391.39L210.00 391.07L210.25 391.37L210.50 391.64L210.75 392.52L211.00 393.07L211.25 393.55L211.50 393.67L211.75 393.62L212.00 393.12L212.25 392.76L212.50 392.33L212.75 392.66L213.00 393.32L213.25 393.65L213.50 393.50L213.75 393.79L214.00 394.04L214.25 393.89L214.50 394.00L214.75 394.33L215.00 394.45L215.25 394.31L215.50 394.78L215.75 394.81L216.00 394.56L216.25 394.52L216.50 394.33L216.75 393.95L217.00 393.33L217.25 392.90L217.50 391.88L217.75 391.37L218.00 391.01L218.25 391.56L218.50 392.26L218.75 393.28L219.00 393.55L219.25 393.90L219.50 394.10L219.75 394.26L220.00 394.27L220.25 394.96L220.50 394.93L220.75 394.97L221.00 394.90L221.25 394.96L221.50 394.20L221.75 394.30L222.00 393.91L222.25 393.17L222.50 391.99L222.75 390.86L223.00 388.98L223.25 387.66L223.40 387.75L223.50 388.00L223.75 389.20L224.00 390.58L224.25 392.06L224.50 393.00L224.75 393.40L225.00 393.35L225.25 393.48L225.50 393.56L225.75 393.19L226.00 392.81L226.25 392.16L226.50 390.70L226.75 387.22L227.00 382.28L227.25 376.45L227.50 372.46L227.60 372.07L227.75 373.08L228.00 377.99L228.25 383.93L228.50 388.57L228.75 391.35L229.00 392.88L229.25 393.59L229.50 393.97L229.75 394.07L230.00 394.18L230.25 394.26L230.50 394.27L230.75 394.29L231.00 394.45L231.25 394.29L231.50 394.38L231.75 394.51L232.00 394.34L232.25 394.51L232.50 394.74L232.75 394.69L233.00 394.32L233.25 394.63L233.50 394.32L233.75 394.23L234.00 394.34L234.25 394.44L234.50 394.19L234.75 394.18L235.00 394.23L235.25 394.25L235.50 394.43L235.75 394.61L236.00 394.71L236.25 394.75L236.50 394.59L236.75 394.79L237.00 394.77L237.25 394.58L237.50 394.43L237.75 394.72L238.00 394.31L238.25 394.24L238.50 394.53L238.75 394.53L239.00 394.47L239.25 394.85L239.50 394.80L239.75 394.90L240.00 394.92L240.25 394.67L240.50 394.50L240.75 394.63L241.00 394.42L241.25 394.64L241.50 394.59L241.75 394.45L242.00 394.29L242.25 394.46L242.50 394.46L242.75 394.73L243.00 394.68L243.25 394.83L243.50 394.79L243.75 394.50L244.00 394.32L244.25 394.56L244.50 394.63L244.75 394.61L245.00 394.88L245.25 395.02L245.50 394.96L245.75 394.86L246.00 394.72L246.25 394.63L246.50 394.54L246.75 394.80L247.00 394.85L247.25 394.95L247.50 394.95L247.75 394.98L248.00 394.65L248.25 394.66L248.50 394.62L248.75 394.67L249.00 394.44L249.25 394.23L249.50 393.87L249.75 393.33L250.00 393.06L250.25 393.36L250.50 393.66L250.75 393.88L251.00 394.07L251.25 394.34L251.50 394.26L251.75 394.15L252.00 394.26L252.25 394.18L252.50 393.98L252.75 393.78L253.00 393.37L253.25 392.30L253.50 391.19L253.75 389.75L254.00 389.41L254.25 389.75L254.50 390.81L254.75 392.35L255.00 393.48L255.25 393.92L255.50 394.32L255.75 394.57L256.00 394.34L256.25 394.41L256.50 394.63L256.75 394.78L257.00 394.45L257.25 394.36L257.50 394.48L257.75 394.32L258.00 394.19L258.25 394.69L258.50 394.72L258.75 394.84L259.00 394.87L259.25 394.99L259.50 394.90L259.75 395.23L260.00 395.05L260.25 394.97L260.50 395.00L260.75 394.99L261.00 394.73L261.25 394.93L261.50 395.14L261.75 395.22L262.00 395.19L262.25 395.38L262.50 395.14L262.75 394.83L263.00 394.54L263.25 394.19L263.50 393.13L263.75 391.91L264.00 390.92L264.25 391.72L264.50 393.12L264.75 394.30L265.00 394.41L265.25 394.69L265.50 394.73L265.75 394.74L266.00 394.44L266.25 394.61L266.50 394.73L266.75 394.97L267.00 394.99L267.25 395.46L267.50 395.21L267.75 394.89L268.00 394.73L268.25 394.82L268.50 394.60L268.75 394.60L269.00 394.92L269.25 395.15L269.50 395.02L269.75 394.83L270.00 394.73L270.25 394.67L270.50 394.54L270.75 394.71L271.00 394.88L271.25 395.22L271.50 395.15L271.75 395.09L272.00 394.79L272.25 394.47L272.50 394.15L272.75 393.76L273.00 393.17L273.25 392.18L273.50 389.33L273.75 383.39L274.00 374.94L274.25 367.28L274.40 365.31L274.50 366.01L274.75 372.79L275.00 381.22L275.25 386.76L275.50 388.70L275.75 388.08L276.00 387.90L276.25 389.25L276.50 391.35L276.75 393.12L277.00 394.33L277.25 394.73L277.50 395.07L277.75 395.06L278.00 395.09L278.25 395.10L278.50 395.01L278.75 394.95L279.00 394.93L279.25 394.71L279.50 394.73L279.75 394.82L280.00 394.84L280.25 395.13L280.50 395.52L280.75 395.39L281.00 395.34L281.25 395.04L281.50 394.59L281.75 394.01L282.00 393.86L282.25 394.04L282.50 394.57L282.75 394.64L283.00 394.85L283.25 394.61L283.50 394.68L283.75 394.82L284.00 395.27L284.25 395.32L284.50 395.52L284.75 395.27L285.00 395.39L285.25 394.97L285.50 395.04L285.75 394.84L286.00 395.04L286.25 394.88L286.50 395.10L286.75 394.99L287.00 395.17L287.25 395.07L287.50 395.11L287.75 395.12L288.00 395.10L288.25 395.22L288.50 395.22L288.75 395.21L289.00 395.30L289.25 395.22L289.50 395.19L289.75 395.41L290.00 395.18L290.25 395.23L290.50 395.44L290.75 395.27L291.00 395.02L291.25 394.88L291.50 393.79L291.75 392.70L292.00 391.53L292.25 390.22L292.50 389.38L292.60 389.40L292.75 389.31L293.00 390.00L293.25 391.22L293.50 392.37L293.75 393.34L294.00 394.12L294.25 394.66L294.50 395.02L294.75 395.09L295.00 395.02L295.25 394.92L295.50 394.84L295.75 394.15L296.00 393.31L296.25 392.54L296.50 391.84L296.60 391.74L296.75 391.70L297.00 392.64L297.25 393.47L297.50 394.15L297.75 394.52L298.00 394.81L298.25 394.81L298.50 395.01L298.75 395.13L299.00 395.07L299.25 395.41L299.50 395.28L299.75 395.19L300.00 395.32L300.25 395.56L300.50 395.38L300.75 395.47L301.00 395.61L301.25 395.25L301.50 395.02L301.75 394.84L302.00 394.60L302.25 394.69L302.50 395.01L302.75 395.21L303.00 395.39L303.25 395.65L303.50 395.30L303.75 395.11L304.00 394.73L304.25 394.33L304.50 393.52L304.75 391.92L305.00 389.85L305.25 387.95L305.40 387.56L305.50 387.39L305.75 389.20L306.00 391.30L306.25 393.11L306.50 394.13L306.75 394.93L307.00 395.09L307.25 395.26L307.50 395.34L307.75 395.45L308.00 395.45L308.25 395.47L308.50 395.64L308.75 395.83L309.00 395.87L309.25 395.62L309.50 395.78L309.75 395.89L310.00 395.65L310.25 395.52L310.50 395.43L310.75 395.31L311.00 394.92L311.25 395.18L311.50 394.91L311.75 395.16L312.00 395.12L312.25 395.13L312.50 394.68L312.75 394.77L313.00 394.33L313.25 393.78L313.50 393.52L313.60 393.51L313.75 393.52L314.00 394.01L314.25 394.40L314.50 394.74L314.75 394.90L315.00 395.12L315.25 394.87L315.50 395.00L315.75 394.52L316.00 394.34L316.25 393.71L316.50 393.35L316.75 392.11L317.00 390.53L317.25 388.26L317.50 386.34L317.75 384.95L317.80 384.95L318.00 385.53L318.25 387.42L318.50 389.72L318.75 392.04L319.00 393.31L319.25 394.40L319.50 394.90L319.75 395.20L320.00 394.98L320.25 395.06L320.50 394.80L320.75 394.89L321.00 394.78L321.25 395.02L321.50 394.94L321.75 395.29L322.00 395.29L322.25 395.19L322.50 394.83L322.75 394.58L323.00 393.93L323.25 393.50L323.50 392.45L323.75 391.57L324.00 391.49L324.25 391.81L324.50 392.62L324.75 393.64L325.00 394.39L325.25 394.76L325.50 395.19L325.75 395.20L326.00 395.40L326.25 395.48L326.50 395.30L326.75 395.31L327.00 395.18L327.25 395.26L327.50 395.04L327.75 395.15L328.00 395.39L328.25 395.66L328.50 395.46L328.75 395.52L329.00 395.42L329.25 395.31L329.50 395.25L329.75 395.26L330.00 395.64L330.25 395.56L330.50 395.28L330.75 395.02L331.00 394.79L331.25 394.18L331.50 393.89L331.75 393.74L332.00 393.73L332.25 393.79L332.50 393.74L332.75 394.23L333.00 394.35L333.25 394.46L333.50 394.65L333.75 394.90L334.00 394.75L334.25 394.89L334.50 394.92L334.75 394.91L335.00 394.82L335.25 394.64L335.50 394.15L335.75 393.80L336.00 393.64L336.25 393.88L336.50 394.09L336.75 394.55L337.00 394.86L337.25 395.12L337.50 395.22L337.75 395.38L338.00 395.28L338.25 395.52L338.50 395.27L338.75 395.14L339.00 395.18L339.25 395.10L339.50 394.99L339.75 395.14L340.00 395.34L340.25 395.24L340.50 395.40L340.75 395.38L341.00 395.47L341.25 395.76L341.50 396.02L341.75 395.85L342.00 395.76L342.25 395.60L342.50 395.39L342.75 395.25L343.00 395.54L343.25 395.49L343.50 395.62L343.75 395.66L344.00 395.60L344.25 395.29L344.50 395.20L344.75 395.32L345.00 395.17L345.25 395.21L345.50 395.34L345.75 395.60L346.00 395.44L346.25 395.40L346.50 395.37L346.75 395.47L347.00 395.30L347.25 395.34L347.50 395.51L347.75 395.34L348.00 395.18L348.25 395.20L348.50 395.14L348.75 394.79L349.00 394.96L349.25 395.09L349.50 395.04L349.75 394.98L350.00 395.15L350.25 395.34L350.50 395.48L350.75 395.60L351.00 395.69L351.25 395.61L351.50 395.43L351.75 395.42L352.00 395.35L352.25 395.40L352.50 395.49L352.75 395.48L353.00 395.30L353.25 394.84L353.50 394.36L353.75 393.89L354.00 393.82L354.25 393.85L354.50 394.43L354.75 394.75L355.00 395.14L355.25 395.27L355.50 395.40L355.75 395.41L356.00 395.50L356.25 395.54L356.50 395.41L356.75 395.43L357.00 395.36L357.25 395.20L357.50 395.08L357.75 395.08L358.00 394.78L358.25 394.70L358.50 394.26L358.75 393.87L359.00 393.64L359.25 393.74L359.50 393.99L359.75 394.34L360.00 394.55L360.25 394.73L360.50 395.18L360.75 395.13L361.00 394.83L361.25 394.32L361.50 393.90L361.75 393.39L361.80 393.50L362.00 393.76L362.25 394.22L362.50 394.40L362.75 394.73L363.00 394.91L363.25 395.01L363.50 395.24L363.75 395.49L364.00 395.65L364.25 395.48L364.50 395.60L364.75 395.77L365.00 395.57L365.25 395.57L365.50 395.79L365.75 395.85L366.00 395.79L366.25 395.58L366.50 395.45L366.75 395.12L367.00 395.02L367.25 394.80L367.50 395.22L367.75 395.16L368.00 395.41L368.25 395.27L368.50 395.40L368.75 395.31L369.00 395.20L369.25 394.87L369.50 394.84L369.75 394.60L370.00 394.64L370.25 395.02L370.50 395.34L370.75 395.40L371.00 395.23L371.25 395.18L371.50 394.84L371.75 394.72L372.00 394.80L372.25 395.40L372.50 395.22L372.75 395.44L373.00 395.69L373.25 395.72L373.50 395.31L373.75 395.73L374.00 395.42L374.25 394.98L374.50 394.88L374.75 395.03L375.00 394.91L375.25 395.16L375.50 395.64L375.75 395.76L376.00 395.72L376.25 395.58L376.50 395.75L376.75 395.48L377.00 395.46L377.25 395.66L377.50 395.86L377.75 395.83L378.00 395.67L378.25 395.58L378.50 395.33L378.75 395.12L379.00 394.91L379.25 394.96L379.50 394.97L379.75 394.42L380.00 393.74L380.25 393.01L380.40 392.82L380.50 392.78L380.75 393.65L381.00 394.44L381.25 394.91L381.50 395.27L381.75 395.42L382.00 395.42L382.25 395.38L382.50 395.61L382.75 395.63L383.00 395.48L383.25 395.28L383.50 395.15L383.75 395.08L384.00 394.95L384.25 395.05L384.50 395.20L384.75 395.53L385.00 395.76L385.25 395.83L385.50 396.13L385.75 396.21L386.00 396.20L386.25 395.90L386.50 395.76L386.75 395.58L387.00 395.67L387.25 395.33L387.50 395.36L387.75 395.54L388.00 395.55L388.25 395.26L388.50 395.38L388.75 395.51L389.00 395.70L389.25 395.64L389.50 395.90L389.75 395.99L390.00 395.93L390.25 395.66L390.50 395.62L390.75 395.42L391.00 395.42L391.25 395.50L391.50 395.57L391.75 395.68L392.00 395.67L392.25 395.75L392.50 395.22L392.75 395.02L393.00 394.90L393.25 394.75L393.50 394.73L393.75 395.15L394.00 395.21L394.25 395.26L394.50 395.30L394.75 395.11L395.00 395.04L395.25 394.95L395.50 395.07L395.75 395.17L396.00 395.41L396.25 395.44L396.50 395.67L396.75 395.43L397.00 395.47L397.25 395.29L397.50 395.33L397.75 395.45L398.00 395.49L398.25 395.50L398.50 395.59L398.75 395.66L399.00 395.46L399.25 395.46L399.50 395.39L399.75 395.32L400.00 395.20L400.25 395.06L400.50 394.92L400.75 394.79L401.00 394.18L401.25 393.02L401.50 391.73L401.75 390.38L402.00 389.67L402.25 390.37L402.50 391.74L402.75 392.83L403.00 393.19L403.25 392.79L403.50 391.99L403.60 392.01L403.75 392.30L404.00 393.28L404.25 394.17L404.50 394.98L404.75 395.03L405.00 394.92L405.25 394.54L405.50 394.58L405.75 394.80L406.00 395.26L406.25 395.32L406.50 395.77L406.75 395.97L407.00 395.74L407.25 395.28L407.50 395.60L407.75 395.48L408.00 395.28L408.25 395.53L408.50 395.83L408.75 395.76L409.00 396.01L409.25 396.04L409.50 395.71L409.75 395.75L410.00 395.64L410.25 395.53L410.50 395.60L410.75 395.62L411.00 395.53L411.25 395.48L411.50 395.35L411.75 395.27L412.00 395.37L412.25 395.30L412.50 395.01L412.75 394.82L413.00 394.22L413.25 393.98L413.50 393.54L413.60 393.66L413.75 393.82L414.00 394.34L414.25 394.38L414.50 394.70L414.75 395.01L415.00 395.05L415.25 395.25L415.50 395.47L415.75 395.60L416.00 395.63L416.25 395.76L416.50 395.56L416.75 395.96L417.00 395.96L417.25 396.05L417.50 396.09L417.75 396.28L418.00 395.86L418.25 395.97L418.50 395.93L418.75 395.31L419.00 395.15L419.25 394.87L419.50 394.28L419.75 393.27L420.00 392.08L420.25 389.83L420.50 387.34L420.75 386.10L420.80 385.77L421.00 386.29L421.25 388.16L421.50 390.33L421.75 391.22L422.00 391.44L422.25 390.82L422.40 391.04L422.50 391.32L422.75 392.51L423.00 393.57L423.25 394.41L423.50 394.50L423.75 394.75L424.00 394.99L424.25 395.09L424.50 395.51L424.75 395.69L425.00 395.28L425.25 395.33L425.50 395.67L425.75 395.45L426.00 395.38L426.25 395.82L426.50 395.63L426.75 395.47L427.00 395.54L427.25 395.69L427.50 395.48L427.75 395.42L428.00 395.52L428.25 395.19L428.50 395.20L428.75 395.29L429.00 395.49L429.25 395.35L429.50 395.65L429.75 395.71L430.00 395.55L430.25 395.49L430.50 395.59L430.75 395.40L431.00 395.19L431.25 395.51L431.50 395.64L431.75 395.50L432.00 395.74L432.25 395.91L432.50 395.89L432.75 395.90L433.00 395.69L433.25 395.56L433.50 395.68L433.75 395.70L434.00 395.47L434.25 395.61L434.50 395.65L434.75 395.34L435.00 395.00L435.25 394.71L435.50 394.65L435.75 394.37L436.00 394.36L436.25 394.37L436.50 394.63L436.75 394.69L437.00 394.90L437.25 394.75L437.50 395.03L437.75 395.49L438.00 395.58L438.25 395.51L438.50 395.86L438.75 395.90L439.00 395.60L439.25 395.66L439.50 395.70L439.75 395.55L440.00 395.51L440.25 395.63L440.50 395.82L440.75 395.59L441.00 395.77L441.25 395.80L441.50 395.74L441.75 395.63L442.00 395.97L442.25 395.86L442.50 395.72L442.75 395.77L443.00 395.63L443.25 395.35L443.50 395.20L443.75 395.13L444.00 395.11L444.25 395.28L444.50 395.45L444.75 395.68L445.00 395.64L445.25 395.33L445.50 394.85L445.75 394.42L446.00 394.07L446.25 394.39L446.50 394.58L446.75 395.03L447.00 395.35L447.25 395.61L447.50 395.44L447.75 395.74L448.00 395.63L448.25 395.72L448.50 395.38L448.75 395.51L449.00 395.51L449.25 395.38L449.50 395.41L449.75 395.52L450.00 395.58L450.25 395.49L450.50 395.77L450.75 395.72L451.00 395.71L451.25 395.78L451.50 395.94L451.75 395.73L452.00 395.75L452.25 395.96L452.50 395.69L452.75 395.41L453.00 395.69L453.25 395.58L453.50 395.63L453.75 395.95L454.00 396.14L454.25 395.87L454.50 396.05L454.75 395.77L455.00 395.42L455.25 395.72L455.50 395.73L455.75 395.65L456.00 395.69L456.25 395.79L456.50 395.45L456.75 395.22L457.00 395.09L457.25 395.30L457.50 395.42L457.75 395.43L458.00 395.63L458.25 395.75L458.50 395.58L458.75 395.31L459.00 395.15L459.25 395.33L459.50 394.88L459.75 394.77L460.00 394.76L460.25 394.71L460.50 394.62L460.75 395.00L461.00 395.03L461.25 395.15L461.50 395.27L461.75 395.28L462.00 395.44L462.25 395.50L462.50 395.37L462.75 395.50L463.00 395.85L463.25 395.65L463.50 395.47L463.75 395.69L464.00 395.93L464.25 395.86L464.50 395.76L464.75 395.68L465.00 395.71L465.25 395.43L465.50 395.29L465.75 395.35L466.00 395.63L466.25 395.18L466.50 394.74L466.75 394.28L467.00 393.96L467.25 393.96L467.50 394.36L467.75 394.56L468.00 394.70L468.25 394.87L468.50 394.74L468.75 394.83L469.00 395.25L469.25 395.44L469.50 395.42L469.75 395.39L470.00 395.45L470.25 395.27L470.50 395.22L470.75 395.24L471.00 395.21L471.25 395.38L471.50 395.34L471.75 395.32L472.00 395.33L472.25 395.75L472.50 395.40L472.75 395.40L473.00 395.27L473.25 395.10L473.50 394.56L473.75 393.78L474.00 393.58L474.25 393.79L474.50 394.33L474.75 394.59L475.00 395.16L475.25 395.05L475.50 395.09L475.75 395.14L476.00 394.97L476.25 394.49L476.50 394.14L476.75 393.63L477.00 393.24L477.25 393.60L477.50 394.15L477.75 394.78L478.00 395.01L478.25 395.05L478.50 395.18L478.75 395.17L479.00 394.97L479.25 395.09L479.50 395.38L479.75 395.28L480.00 395.39L480.25 395.46L480.50 395.54L480.75 395.39L481.00 395.48L481.25 395.70L481.50 395.73L481.75 395.64L482.00 395.59L482.25 395.46L482.50 395.14L482.75 395.04L483.00 395.01L483.25 395.17L483.50 395.32L483.75 395.42L484.00 395.60L484.25 395.51L484.50 395.72L484.75 395.97L485.00 396.01L485.25 396.03L485.50 396.20L485.75 396.04L486.00 395.66L486.25 395.49L486.50 395.53L486.75 395.38L487.00 395.33L487.25 395.30L487.50 395.39L487.75 395.41L488.00 395.74L488.25 395.68L488.50 395.74L488.75 395.88L489.00 395.69L489.25 395.28L489.50 395.29L489.75 395.07L490.00 395.09L490.25 395.09L490.50 395.33L490.75 395.15L491.00 395.34L491.25 395.35L491.50 395.58L491.75 395.66L492.00 395.89L492.25 395.85L492.50 395.85L492.75 395.70L493.00 395.55L493.25 395.67L493.50 395.71L493.75 395.86L494.00 395.76L494.25 395.72L494.50 395.55L494.75 395.48L495.00 395.20L495.25 395.29L495.50 395.17L495.75 395.08L496.00 395.07L496.25 395.07L496.50 395.20L496.75 395.36L497.00 395.44L497.25 395.64L497.50 395.56L497.75 395.44L498.00 395.43L498.25 395.38L498.50 395.14L498.75 395.20L499.00 395.30L499.25 395.51L499.50 395.55L499.75 395.77L500.00 395.80L500.25 395.54L500.50 395.17L500.75 395.41L501.00 395.28L501.25 395.36L501.50 395.69L501.75 395.86L502.00 395.64L502.25 395.79L502.50 395.72L502.75 395.56L503.00 395.57L503.25 395.73L503.50 395.76L503.75 395.66L504.00 395.47L504.25 395.43L504.50 395.22L504.75 395.06L505.00 395.32L505.25 395.40L505.50 395.41L505.75 395.50L506.00 395.33L506.25 395.25L506.50 395.37L506.75 395.52L507.00 395.28L507.25 395.33L507.50 395.15L507.75 394.91L508.00 394.51L508.25 394.80L508.50 394.94L508.75 395.11L509.00 395.16L509.25 395.57L509.50 395.49L509.75 395.48L510.00 395.56L510.25 395.85L510.50 395.62L510.75 395.79L511.00 396.08L511.25 396.02L511.50 395.72L511.75 395.90L512.00 395.92L512.25 395.59L512.50 395.77L512.75 395.92L513.00 395.84L513.25 395.84L513.50 395.99L513.75 395.94L514.00 395.97L514.25 396.03L514.50 395.90L514.75 395.90L515.00 395.82L515.25 395.88L515.50 395.80L515.75 395.91L516.00 395.87L516.25 395.95L516.50 395.97L516.75 395.99L517.00 395.79L517.25 395.81L517.50 395.83L517.75 395.78L518.00 395.91L518.25 395.99L518.50 395.94L518.75 395.69L519.00 395.43L519.25 395.35L519.50 395.36L519.75 395.39L520.00 395.57L520.25 395.69L520.50 395.86L520.75 395.68L521.00 395.72L521.25 395.47L521.50 395.56L521.75 395.49L522.00 395.49L522.25 395.48L522.50 395.64L522.75 395.70L523.00 395.59L523.25 395.87L523.50 395.91L523.75 395.94L524.00 396.03L524.25 396.08L524.50 395.96L524.75 395.75L525.00 395.80L525.25 395.65L525.50 395.77L525.75 395.72L526.00 395.72L526.25 395.76L526.50 395.71L526.75 395.33L527.00 395.54L527.25 395.51L527.50 395.53L527.75 395.51L528.00 395.74L528.25 395.63L528.50 395.58L528.75 395.42L529.00 395.48L529.25 395.45L529.50 395.49L529.75 395.90L530.00 395.88L530.25 395.92L530.50 396.17L530.75 396.19L531.00 396.09L531.25 395.93L531.50 395.77L531.75 395.44L532.00 395.33L532.25 395.29L532.50 395.82L532.75 395.84L533.00 395.86L533.25 395.96L533.50 395.93L533.75 395.73L534.00 395.85L534.25 395.79L534.50 395.97L534.75 395.99L535.00 395.71L535.25 395.74L535.50 395.86" fill="none" stroke="#1a1a1a" stroke-width="1.25" stroke-linejoin="round"/>
<path d="M56.00 318.51L56.25 318.58L56.50 318.60L56.75 318.60L57.00 318.55L57.25 318.83L57.50 318.75L57.75 318.68L58.00 318.53L58.25 318.50L58.50 318.41L58.75 318.55L59.00 318.52L59.25 318.52L59.50 318.62L59.75 318.56L60.00 318.50L60.25 318.55L60.50 318.74L60.75 318.57L61.00 318.46L61.25 318.34L61.50 318.36L61.75 318.39L62.00 318.65L62.25 318.62L62.50 318.79L62.75 318.70L63.00 318.47L63.25 318.14L63.50 317.50L63.75 316.56L64.00 316.21L64.25 316.60L64.50 317.27L64.75 318.14L65.00 318.52L65.25 318.81L65.50 318.84L65.75 318.91L66.00 318.81L66.25 319.00L66.50 318.85L66.75 318.97L67.00 318.73L67.25 318.77L67.50 318.54L67.75 318.62L68.00 318.49L68.25 318.53L68.50 318.55L68.75 318.76L69.00 318.79L69.25 318.89L69.50 319.05L69.75 319.14L70.00 319.16L70.25 319.19L70.50 319.34L70.75 319.24L71.00 319.20L71.25 319.01L71.50 319.19L71.75 319.00L72.00 319.06L72.25 319.11L72.50 319.20L72.75 318.91L73.00 318.77L73.25 318.74L73.50 318.79L73.75 318.83L74.00 319.05L74.25 319.29L74.50 319.27L74.75 318.96L75.00 318.93L75.25 318.82L75.50 318.72L75.75 318.77L76.00 318.93L76.25 318.89L76.50 318.68L76.75 318.63L77.00 318.61L77.25 318.37L77.50 318.04L77.75 317.40L78.00 315.99L78.25 313.75L78.50 311.92L78.60 311.69L78.75 312.26L79.00 314.32L79.25 316.32L79.50 317.41L79.75 318.00L80.00 318.16L80.25 318.33L80.50 318.51L80.75 318.71L81.00 318.86L81.25 318.83L81.50 318.90L81.75 318.95L82.00 319.01L82.25 318.95L82.50 319.04L82.75 318.93L83.00 318.74L83.25 318.64L83.50 318.53L83.75 318.37L84.00 318.44L84.25 318.58L84.50 318.64L84.75 318.69L85.00 318.77L85.25 318.66L85.50 318.40L85.75 317.75L86.00 317.06L86.25 315.16L86.50 311.79L86.75 307.76L87.00 305.78L87.25 307.66L87.50 311.64L87.75 314.81L88.00 316.75L88.25 317.76L88.50 318.22L88.75 318.34L89.00 318.30L89.25 317.69L89.50 316.58L89.75 314.69L90.00 313.70L90.25 314.76L90.50 316.55L90.75 317.82L91.00 318.44L91.25 318.66L91.50 318.59L91.75 318.60L92.00 318.23L92.25 317.47L92.50 316.16L92.75 314.76L93.00 313.85L93.25 314.26L93.50 315.26L93.75 315.76L94.00 315.65L94.25 313.63L94.50 307.20L94.75 294.08L95.00 277.93L95.20 271.59L95.25 271.83L95.50 283.89L95.75 300.09L96.00 310.27L96.25 314.79L96.50 316.69L96.75 317.54L97.00 318.10L97.25 318.55L97.50 318.72L97.75 318.75L98.00 318.74L98.25 318.59L98.50 318.58L98.75 318.62L99.00 318.62L99.25 318.71L99.50 318.83L99.75 318.96L100.00 318.91L100.25 318.75L100.50 318.62L100.75 318.71L101.00 318.56L101.25 318.20L101.50 317.49L101.75 315.79L102.00 312.91L102.25 310.32L102.40 309.86L102.50 310.25L102.75 312.51L103.00 315.31L103.25 317.25L103.50 318.24L103.75 318.69L104.00 318.85L104.25 319.18L104.50 319.32L104.75 319.46L105.00 319.32L105.25 319.38L105.50 319.16L105.75 319.13L106.00 318.86L106.25 318.99L106.50 318.88L106.75 318.96L107.00 319.04L107.25 319.20L107.50 319.13L107.75 319.24L108.00 319.15L108.25 319.05L108.50 319.07L108.75 319.05L109.00 319.06L109.25 318.80L109.50 318.06L109.75 316.39L110.00 313.29L110.25 309.01L110.50 305.57L110.60 305.40L110.75 306.32L111.00 310.36L111.25 314.20L111.50 316.91L111.75 318.16L112.00 318.70L112.25 318.74L112.50 319.05L112.75 319.10L113.00 319.07L113.25 319.09L113.50 319.22L113.75 319.21L114.00 319.21L114.25 319.16L114.50 319.12L114.75 318.89L115.00 318.81L115.25 318.59L115.50 318.44L115.75 317.99L116.00 317.43L116.25 315.96L116.50 312.35L116.75 304.49L117.00 291.60L117.25 278.41L117.40 275.52L117.50 276.97L117.75 288.79L118.00 302.53L118.25 311.70L118.50 315.86L118.75 317.73L119.00 318.48L119.25 318.71L119.50 318.81L119.75 319.10L120.00 319.11L120.25 319.24L120.50 319.30L120.75 319.12L121.00 319.09L121.25 318.98L121.50 318.97L121.75 319.03L122.00 319.25L122.25 319.31L122.50 319.28L122.75 319.24L123.00 319.17L123.25 319.04L123.50 318.54L123.75 318.11L124.00 317.82L124.25 318.26L124.50 318.59L124.75 319.03L125.00 319.38L125.25 319.46L125.50 319.28L125.75 319.22L126.00 319.15L126.25 319.20L126.50 319.33L126.75 319.24L127.00 319.55L127.25 319.52L127.50 319.38L127.75 319.50L128.00 319.71L128.25 319.58L128.50 319.83L128.75 319.90L129.00 319.78L129.25 319.68L129.50 319.67L129.75 319.51L130.00 319.59L130.25 319.47L130.50 319.45L130.75 319.15L131.00 318.74L131.25 318.12L131.50 317.16L131.75 315.98L132.00 315.61L132.25 316.29L132.50 317.35L132.75 318.28L133.00 318.63L133.25 318.80L133.50 318.91L133.75 318.73L134.00 318.03L134.25 316.61L134.50 313.83L134.75 310.55L135.00 308.84L135.25 310.42L135.50 313.58L135.75 316.18L136.00 317.46L136.25 317.84L136.50 317.78L136.75 316.89L137.00 315.14L137.25 311.48L137.50 305.63L137.75 299.15L138.00 296.13L138.25 299.41L138.50 305.88L138.75 311.84L139.00 315.62L139.25 317.50L139.50 318.14L139.75 318.66L140.00 318.83L140.25 318.86L140.50 318.90L140.75 319.13L141.00 319.28L141.25 319.30L141.50 319.44L141.75 319.67L142.00 319.70L142.25 319.49L142.50 319.55L142.75 319.51L143.00 319.54L143.25 319.32L143.50 319.20L143.75 318.74L144.00 317.85L144.25 316.06L144.50 313.85L144.75 311.03L145.00 307.90L145.25 305.67L145.40 305.26L145.50 305.45L145.75 307.21L146.00 310.21L146.25 313.05L146.50 315.32L146.75 316.62L147.00 317.10L147.25 316.74L147.50 316.07L147.75 315.01L148.00 314.68L148.25 315.26L148.50 316.49L148.75 317.66L149.00 318.68L149.25 319.23L149.50 319.46L149.75 319.88L150.00 320.05L150.25 320.02L150.50 319.91L150.75 320.01L151.00 319.84L151.25 319.61L151.50 319.73L151.75 319.81L152.00 320.12L152.25 320.10L152.50 320.16L152.75 320.32L153.00 320.42L153.25 320.19L153.50 320.22L153.75 320.31L154.00 320.11L154.25 320.10L154.50 320.05L154.75 319.93L155.00 319.84L155.25 319.86L155.50 319.94L155.75 319.90L156.00 319.70L156.25 319.03L156.50 317.74L156.75 315.71L157.00 314.74L157.25 315.52L157.50 317.08L157.75 318.32L158.00 319.22L158.25 319.57L158.50 319.89L158.75 320.22L159.00 320.36L159.25 320.44L159.50 320.44L159.75 320.61L160.00 320.63L160.25 320.56L160.50 320.49L160.75 320.59L161.00 320.52L161.25 320.39L161.50 320.54L161.75 320.49L162.00 320.41L162.25 320.40L162.50 320.37L162.75 320.25L163.00 320.27L163.25 320.08L163.50 319.46L163.75 318.85L164.00 318.02L164.25 317.33L164.40 317.27L164.50 317.58L164.75 318.22L165.00 319.05L165.25 319.88L165.50 320.33L165.75 320.48L166.00 320.61L166.25 320.77L166.50 320.76L166.75 320.70L167.00 320.76L167.25 320.80L167.50 320.72L167.75 320.81L168.00 320.72L168.25 320.75L168.50 320.67L168.75 320.62L169.00 320.54L169.25 320.55L169.50 320.41L169.75 320.40L170.00 320.41L170.25 320.37L170.50 320.58L170.75 320.61L171.00 320.78L171.25 320.72L171.50 320.87L171.75 320.73L172.00 320.73L172.25 320.65L172.50 320.73L172.75 320.50L173.00 320.33L173.25 320.35L173.50 320.22L173.75 319.87L174.00 319.25L174.25 318.57L174.50 317.38L174.75 315.66L175.00 314.05L175.25 313.06L175.40 312.76L175.50 312.73L175.75 313.83L176.00 315.51L176.25 317.13L176.50 318.58L176.75 319.63L177.00 320.19L177.25 320.27L177.50 320.44L177.75 320.51L178.00 320.55L178.25 320.61L178.50 321.02L178.75 320.89L179.00 320.95L179.25 321.00L179.50 321.16L179.75 321.14L180.00 321.34L180.25 321.31L180.50 321.25L180.75 321.24L181.00 321.16L181.25 321.20L181.50 321.08L181.75 320.98L182.00 320.92L182.25 320.94L182.50 320.74L182.75 320.76L183.00 320.87L183.25 320.89L183.50 320.88L183.75 321.10L184.00 321.18L184.25 321.25L184.50 321.33L184.75 321.29L185.00 321.40L185.25 321.39L185.50 321.36L185.75 321.10L186.00 321.11L186.25 320.88L186.50 320.86L186.75 320.87L187.00 320.94L187.25 320.97L187.50 320.85L187.75 320.87L188.00 320.96L188.25 321.07L188.50 321.10L188.75 321.20L189.00 321.13L189.25 321.13L189.50 321.21L189.75 321.24L190.00 321.32L190.25 321.53L190.50 321.38L190.75 321.35L191.00 321.33L191.25 321.26L191.50 321.28L191.75 321.33L192.00 321.34L192.25 321.16L192.50 321.14L192.75 320.98L193.00 321.01L193.25 321.04L193.50 321.21L193.75 321.30L194.00 321.38L194.25 321.32L194.50 321.23L194.75 321.23L195.00 321.18L195.25 321.15L195.50 321.03L195.75 320.92L196.00 320.86L196.25 320.68L196.50 320.38L196.75 320.16L197.00 320.03L197.25 320.29L197.50 320.75L197.75 320.97L198.00 321.09L198.25 321.20L198.50 320.98L198.75 321.05L199.00 321.10L199.25 321.01L199.50 320.91L199.75 321.16L200.00 321.08L200.25 321.27L200.50 321.41L200.75 321.52L201.00 321.54L201.25 321.64L201.50 321.22L201.75 320.98L202.00 320.38L202.25 319.72L202.40 319.29L202.50 319.47L202.75 319.71L203.00 320.23L203.25 320.78L203.50 321.20L203.75 321.21L204.00 321.18L204.25 321.30L204.50 320.95L204.75 320.80L205.00 320.88L205.25 321.11L205.50 321.10L205.75 321.37L206.00 321.47L206.25 321.35L206.50 321.28L206.75 321.42L207.00 321.35L207.25 321.36L207.50 321.48L207.75 321.36L208.00 321.12L208.25 320.99L208.50 320.99L208.75 320.91L209.00 320.93L209.25 320.90L209.50 321.09L209.75 321.13L210.00 321.19L210.25 321.28L210.50 321.41L210.75 321.29L211.00 321.12L211.25 320.76L211.50 320.19L211.75 319.50L212.00 319.23L212.25 319.64L212.50 320.18L212.75 320.66L213.00 321.07L213.25 321.24L213.50 321.09L213.75 321.13L214.00 321.19L214.25 321.17L214.50 321.37L214.75 321.37L215.00 321.45L215.25 321.46L215.50 321.44L215.75 321.20L216.00 321.27L216.25 321.14L216.50 321.07L216.75 321.07L217.00 320.89L217.25 320.53L217.50 320.07L217.75 319.38L218.00 319.03L218.25 319.30L218.50 319.90L218.75 320.36L219.00 320.76L219.25 321.04L219.50 321.17L219.75 321.32L220.00 321.54L220.25 321.52L220.50 321.16L220.75 321.09L221.00 321.01L221.25 320.71L221.50 320.67L221.75 320.74L222.00 320.86L222.25 320.71L222.50 320.26L222.75 318.90L223.00 316.63L223.25 314.07L223.40 313.46L223.50 313.48L223.75 315.46L224.00 317.91L224.25 319.46L224.50 320.13L224.75 320.38L225.00 320.07L225.25 319.38L225.50 317.93L225.75 314.96L226.00 310.55L226.25 306.49L226.40 305.49L226.50 305.99L226.75 309.89L227.00 314.53L227.25 317.81L227.50 319.71L227.75 320.48L228.00 320.71L228.25 320.80L228.50 320.92L228.75 321.04L229.00 321.01L229.25 321.06L229.50 321.16L229.75 321.20L230.00 321.10L230.25 321.18L230.50 321.16L230.75 321.15L231.00 321.36L231.25 321.38L231.50 321.29L231.75 321.34L232.00 321.49L232.25 321.41L232.50 321.43L232.75 321.48L233.00 321.54L233.25 321.39L233.50 321.22L233.75 321.31L234.00 321.36L234.25 321.31L234.50 321.38L234.75 321.37L235.00 321.29L235.25 321.28L235.50 321.43L235.75 321.42L236.00 321.52L236.25 321.47L236.50 321.40L236.75 321.41L237.00 321.60L237.25 321.61L237.50 321.53L237.75 321.63L238.00 321.52L238.25 321.35L238.50 321.21L238.75 321.48L239.00 321.34L239.25 321.39L239.50 321.39L239.75 321.49L240.00 321.43L240.25 321.45L240.50 321.33L240.75 321.38L241.00 321.52L241.25 321.52L241.50 321.63L241.75 321.56L242.00 321.67L242.25 321.53L242.50 321.48L242.75 321.31L243.00 321.40L243.25 321.34L243.50 321.35L243.75 321.38L244.00 321.65L244.25 321.81L244.50 321.72L244.75 321.62L245.00 321.36L245.25 321.22L245.50 320.94L245.75 321.03L246.00 320.98L246.25 321.29L246.50 321.32L246.75 321.32L247.00 321.31L247.25 321.54L247.50 321.49L247.75 321.48L248.00 321.68L248.25 321.70L248.50 321.61L248.75 321.57L249.00 321.46L249.25 321.47L249.50 321.30L249.75 321.31L250.00 321.20L250.25 321.38L250.50 321.31L250.75 321.32L251.00 321.33L251.25 321.36L251.50 321.25L251.75 321.05L252.00 320.80L252.25 320.22L252.50 319.39L252.75 318.70L253.00 318.46L253.25 318.68L253.50 319.42L253.75 320.37L254.00 320.95L254.25 321.34L254.50 321.69L254.75 321.70L255.00 321.84L255.25 321.80L255.50 321.67L255.75 321.74L256.00 321.73L256.25 321.63L256.50 321.57L256.75 321.73L257.00 321.72L257.25 321.75L257.50 321.73L257.75 321.87L258.00 321.77L258.25 321.71L258.50 321.74L258.75 321.64L259.00 321.49L259.25 321.53L259.50 321.53L259.75 321.62L260.00 321.72L260.25 321.87L260.50 321.82L260.75 321.92L261.00 321.78L261.25 321.81L261.50 321.74L261.75 321.75L262.00 321.77L262.25 321.89L262.50 321.72L262.75 321.76L263.00 321.71L263.25 321.59L263.50 321.23L263.75 320.94L264.00 320.63L264.25 320.86L264.50 321.16L264.75 321.57L265.00 321.78L265.25 321.85L265.50 321.87L265.75 321.86L266.00 321.74L266.25 321.77L266.50 321.66L266.75 321.76L267.00 321.61L267.25 321.56L267.50 321.29L267.75 321.29L268.00 321.30L268.25 321.34L268.50 321.33L268.75 321.36L269.00 321.39L269.25 321.30L269.50 321.44L269.75 321.53L270.00 321.62L270.25 321.69L270.50 321.78L270.75 321.62L271.00 321.64L271.25 321.54L271.50 321.45L271.75 321.43L272.00 321.50L272.25 321.42L272.50 321.39L272.75 321.41L273.00 321.29L273.25 320.78L273.50 319.91L273.75 318.87L274.00 318.37L274.25 318.72L274.50 320.04L274.75 320.96L275.00 321.52L275.25 321.79L275.50 321.83L275.75 321.58L276.00 321.52L276.25 321.52L276.50 321.58L276.75 321.61L277.00 321.89L277.25 322.05L277.50 322.21L277.75 322.08L278.00 322.04L278.25 321.73L278.50 321.76L278.75 321.60L279.00 321.62L279.25 321.78L279.50 322.01L279.75 322.01L280.00 322.07L280.25 322.06L280.50 322.12L280.75 321.90L281.00 321.74L281.25 321.60L281.50 321.51L281.75 321.30L282.00 321.46L282.25 321.50L282.50 321.77L282.75 321.82L283.00 321.98L283.25 321.87L283.50 321.95L283.75 321.85L284.00 321.85L284.25 321.86L284.50 321.83L284.75 321.72L285.00 321.59L285.25 321.69L285.50 321.58L285.75 321.55L286.00 321.68L286.25 321.75L286.50 321.56L286.75 321.54L287.00 321.58L287.25 321.40L287.50 321.39L287.75 321.40L288.00 321.39L288.25 321.50L288.50 321.74L288.75 321.86L289.00 321.92L289.25 322.07L289.50 321.98L289.75 321.98L290.00 321.88L290.25 321.94L290.50 322.04L290.75 322.12L291.00 321.91L291.25 321.64L291.50 321.22L291.75 320.30L292.00 319.46L292.25 318.63L292.40 318.61L292.50 318.74L292.75 319.50L293.00 320.28L293.25 321.02L293.50 321.35L293.75 321.51L294.00 321.68L294.25 321.60L294.50 321.56L294.75 321.52L295.00 321.41L295.25 321.27L295.50 320.87L295.75 320.15L296.00 319.26L296.25 318.58L296.40 318.43L296.50 318.64L296.75 319.67L297.00 320.66L297.25 321.15L297.50 321.45L297.75 321.81L298.00 321.82L298.25 321.78L298.50 321.77L298.75 321.85L299.00 321.64L299.25 321.54L299.50 321.67L299.75 321.68L300.00 321.56L300.25 321.68L300.50 321.71L300.75 321.76L301.00 321.85L301.25 321.98L301.50 322.02L301.75 321.99L302.00 321.96L302.25 322.07L302.50 322.00L302.75 321.90L303.00 321.93L303.25 321.98L303.50 321.87L303.75 321.84L304.00 321.78L304.25 321.80L304.50 321.57L304.75 321.65L305.00 321.62L305.25 321.62L305.50 321.71L305.75 321.85L306.00 321.81L306.25 321.80L306.50 321.97L306.75 321.91L307.00 321.89L307.25 321.92L307.50 322.09L307.75 322.01L308.00 322.10L308.25 322.12L308.50 322.00L308.75 321.90L309.00 321.77L309.25 321.43L309.50 320.83L309.75 320.13L310.00 319.73L310.25 320.13L310.50 320.55L310.75 321.00L311.00 321.33L311.25 321.53L311.50 321.58L311.75 321.71L312.00 321.71L312.25 321.56L312.50 321.51L312.75 321.42L313.00 321.47L313.25 321.68L313.50 321.78L313.75 321.91L314.00 321.90L314.25 321.85L314.50 321.77L314.75 321.67L315.00 321.73L315.25 321.71L315.50 321.78L315.75 321.65L316.00 321.58L316.25 321.08L316.50 320.54L316.75 319.30L317.00 317.42L317.25 315.38L317.50 313.67L317.60 313.58L317.75 314.27L318.00 316.41L318.25 318.53L318.50 320.25L318.75 321.13L319.00 321.44L319.25 321.58L319.50 321.59L319.75 321.62L320.00 321.61L320.25 321.69L320.50 321.85L320.75 321.98L321.00 321.98L321.25 322.01L321.50 322.02L321.75 321.72L322.00 321.47L322.25 321.10L322.50 320.63L322.75 319.68L323.00 319.46L323.25 319.92L323.50 320.72L323.75 321.14L324.00 321.46L324.25 321.70L324.50 321.80L324.75 321.77L325.00 321.87L325.25 322.11L325.50 322.03L325.75 322.02L326.00 322.06L326.25 322.03L326.50 321.91L326.75 321.93L327.00 321.94L327.25 321.82L327.50 321.93L327.75 322.02L328.00 322.06L328.25 322.07L328.50 322.13L328.75 322.21L329.00 322.31L329.25 322.27L329.50 322.17L329.75 322.01L330.00 321.89L330.25 321.81L330.50 321.89L330.75 321.80L331.00 322.10L331.25 322.14L331.50 322.07L331.75 322.00L332.00 322.08L332.25 322.01L332.50 321.93L332.75 321.96L333.00 321.99L333.25 321.91L333.50 321.79L333.75 321.61L334.00 321.69L334.25 321.70L334.50 321.80L334.75 321.78L335.00 321.76L335.25 321.31L335.50 320.93L335.75 320.52L336.00 320.33L336.25 320.68L336.50 321.30L336.75 321.60L337.00 321.75L337.25 321.96L337.50 321.73L337.75 321.65L338.00 321.81L338.25 321.91L338.50 321.79L338.75 322.04L339.00 322.02L339.25 321.89L339.50 321.90L339.75 321.93L340.00 321.93L340.25 322.09L340.50 322.28L340.75 322.05L341.00 322.09L341.25 322.10L341.50 322.07L341.75 321.93L342.00 322.11L342.25 322.11L342.50 322.00L342.75 321.79L343.00 321.88L343.25 321.97L343.50 321.83L343.75 322.00L344.00 322.06L344.25 322.04L344.50 321.87L344.75 321.97L345.00 321.82L345.25 321.85L345.50 321.84L345.75 322.01L346.00 321.92L346.25 322.12L346.50 322.09L346.75 321.92L347.00 321.84L347.25 322.09L347.50 321.92L347.75 321.87L348.00 321.95L348.25 322.01L348.50 321.89L348.75 321.97L349.00 322.18L349.25 322.41L349.50 322.40L349.75 322.39L350.00 322.35L350.25 322.30L350.50 322.22L350.75 322.24L351.00 322.11L351.25 322.18L351.50 322.26L351.75 322.13L352.00 322.16L352.25 322.11L352.50 321.53L352.75 320.91L353.00 320.56L353.25 320.58L353.50 320.86L353.75 321.38L354.00 321.69L354.25 321.72L354.50 321.87L354.75 321.95L355.00 322.03L355.25 321.95L355.50 321.92L355.75 321.84L356.00 321.88L356.25 321.81L356.50 321.80L356.75 321.84L357.00 321.62L357.25 321.21L357.50 320.61L357.75 320.09L358.00 319.96L358.25 320.37L358.50 321.00L358.75 321.56L359.00 321.91L359.25 322.03L359.50 321.95L359.75 322.02L360.00 322.05L360.25 322.00L360.50 322.12L360.75 322.26L361.00 322.25L361.25 322.43L361.50 322.54L361.75 322.51L362.00 322.48L362.25 322.25L362.50 321.87L362.75 321.69L363.00 321.81L363.25 321.79L363.50 321.92L363.75 322.18L364.00 322.36L364.25 322.19L364.50 322.26L364.75 322.33L365.00 322.25L365.25 322.10L365.50 321.88L365.75 321.82L366.00 321.78L366.25 321.84L366.50 321.97L366.75 322.04L367.00 321.94L367.25 322.01L367.50 321.84L367.75 321.77L368.00 321.89L368.25 322.03L368.50 321.90L368.75 322.08L369.00 321.96L369.25 322.02L369.50 321.98L369.75 322.01L370.00 321.98L370.25 322.19L370.50 322.03L370.75 322.01L371.00 321.94L371.25 322.01L371.50 321.96L371.75 321.97L372.00 321.96L372.25 321.97L372.50 321.89L372.75 321.92L373.00 321.95L373.25 321.97L373.50 321.92L373.75 322.07L374.00 321.88L374.25 321.94L374.50 321.90L374.75 322.14L375.00 321.97L375.25 322.04L375.50 321.91L375.75 322.05L376.00 321.81L376.25 321.96L376.50 322.11L376.75 322.38L377.00 322.20L377.25 322.29L377.50 322.18L377.75 322.17L378.00 321.92L378.25 322.11L378.50 322.08L378.75 322.12L379.00 322.04L379.25 322.15L379.50 322.04L379.75 322.20L380.00 321.99L380.25 322.07L380.50 322.01L380.75 321.99L381.00 321.87L381.25 322.07L381.50 322.02L381.75 322.04L382.00 321.98L382.25 322.20L382.50 322.13L382.75 322.14L383.00 322.15L383.25 322.32L383.50 322.29L383.75 322.40L384.00 322.49L384.25 322.67L384.50 322.40L384.75 322.23L385.00 322.04L385.25 321.95L385.50 321.83L385.75 321.91L386.00 322.11L386.25 322.23L386.50 322.32L386.75 322.24L387.00 322.42L387.25 322.39L387.50 322.35L387.75 322.24L388.00 322.29L388.25 322.18L388.50 322.10L388.75 321.97L389.00 322.00L389.25 322.01L389.50 321.93L389.75 321.97L390.00 321.96L390.25 321.80L390.50 321.89L390.75 322.05L391.00 321.93L391.25 322.22L391.50 322.29L391.75 322.17L392.00 322.13L392.25 322.24L392.50 322.16L392.75 322.11L393.00 322.09L393.25 322.14L393.50 322.18L393.75 322.16L394.00 322.31L394.25 322.42L394.50 322.29L394.75 322.17L395.00 322.33L395.25 322.23L395.50 322.23L395.75 322.20L396.00 322.48L396.25 322.23L396.50 322.31L396.75 322.29L397.00 322.27L397.25 321.99L397.50 322.15L397.75 322.04L398.00 322.07L398.25 322.18L398.50 322.30L398.75 322.39L399.00 322.35L399.25 322.30L399.50 322.25L399.75 322.06L400.00 321.85L400.25 321.92L400.50 321.86L400.75 321.79L401.00 321.36L401.25 320.87L401.50 320.31L401.60 320.25L401.75 320.38L402.00 321.00L402.25 321.43L402.50 321.92L402.75 322.11L403.00 322.14L403.25 322.10L403.50 322.12L403.75 322.21L404.00 322.15L404.25 322.12L404.50 322.17L404.75 322.26L405.00 322.20L405.25 322.17L405.50 322.13L405.75 322.10L406.00 322.06L406.25 322.07L406.50 321.97L406.75 322.13L407.00 322.07L407.25 322.06L407.50 321.92L407.75 321.99L408.00 321.85L408.25 321.99L408.50 322.00L408.75 322.16L409.00 322.17L409.25 322.31L409.50 322.13L409.75 322.12L410.00 322.07L410.25 322.05L410.50 321.90L410.75 321.95L411.00 321.92L411.25 321.79L411.50 321.71L411.75 321.38L412.00 320.95L412.25 320.41L412.40 320.25L412.50 320.30L412.75 320.80L413.00 321.30L413.25 321.60L413.50 321.83L413.75 321.95L414.00 321.78L414.25 321.86L414.50 321.94L414.75 322.06L415.00 321.86L415.25 322.04L415.50 321.93L415.75 322.00L416.00 322.08L416.25 322.19L416.50 322.31L416.75 322.40L417.00 322.42L417.25 322.47L417.50 322.57L417.75 322.45L418.00 322.24L418.25 322.09L418.50 321.91L418.75 321.71L419.00 321.46L419.25 321.45L419.50 320.97L419.75 320.33L420.00 320.19L420.25 320.71L420.50 321.11L420.75 321.67L421.00 322.07L421.25 322.07L421.50 321.87L421.75 321.99L422.00 321.91L422.25 321.80L422.50 322.02L422.75 321.94L423.00 322.07L423.25 322.29L423.50 322.31L423.75 322.25L424.00 322.43L424.25 322.19L424.50 322.02L424.75 322.01L425.00 322.04L425.25 321.92L425.50 321.89L425.75 321.91L426.00 321.91L426.25 321.96L426.50 322.02L426.75 322.07L427.00 322.03L427.25 322.02L427.50 321.66L427.75 321.70L428.00 321.70L428.25 321.74L428.50 321.91L428.75 322.17L429.00 322.23L429.25 322.21L429.50 322.23L429.75 322.08L430.00 321.96L430.25 321.88L430.50 321.91L430.75 322.01L431.00 321.99L431.25 322.14L431.50 322.19L431.75 322.22L432.00 322.18L432.25 322.21L432.50 322.06L432.75 322.11L433.00 322.10L433.25 322.42L433.50 322.35L433.75 322.26L434.00 322.27L434.25 322.25L434.50 321.81L434.75 321.79L435.00 321.82L435.25 321.49L435.50 321.34L435.75 321.04L436.00 320.97L436.25 321.20L436.50 321.58L436.75 321.73L437.00 321.84L437.25 321.78L437.50 321.62L437.75 321.67L438.00 321.67L438.25 321.73L438.50 321.88L438.75 322.04L439.00 322.07L439.25 322.16L439.50 322.18L439.75 322.07L440.00 322.08L440.25 321.98L440.50 321.94L440.75 321.89L441.00 322.02L441.25 322.05L441.50 322.05L441.75 322.11L442.00 322.19L442.25 322.14L442.50 322.18L442.75 322.17L443.00 322.14L443.25 322.01L443.50 322.11L443.75 321.97L444.00 321.98L444.25 321.93L444.50 322.08L444.75 321.96L445.00 321.90L445.25 321.93L445.50 321.99L445.75 321.92L446.00 322.03L446.25 322.22L446.50 322.14L446.75 322.16L447.00 322.24L447.25 322.05L447.50 321.85L447.75 321.72L448.00 321.80L448.25 321.72L448.50 321.82L448.75 321.99L449.00 322.32L449.25 322.24L449.50 322.42L449.75 322.57L450.00 322.84L450.25 322.62L450.50 322.54L450.75 322.34L451.00 322.28L451.25 321.89L451.50 322.03L451.75 321.91L452.00 322.06L452.25 322.05L452.50 322.25L452.75 322.24L453.00 322.42L453.25 322.36L453.50 322.14L453.75 321.99L454.00 321.94L454.25 322.08L454.50 322.06L454.75 322.10L455.00 322.31L455.25 322.21L455.50 322.06L455.75 321.96L456.00 321.79L456.25 321.67L456.50 321.71L456.75 321.77L457.00 321.80L457.25 322.16L457.50 322.23L457.75 322.33L458.00 322.25L458.25 322.26L458.50 322.21L458.75 321.95L459.00 321.91L459.25 321.98L459.50 321.89L459.75 321.78L460.00 322.06L460.25 322.05L460.50 322.15L460.75 322.33L461.00 322.50L461.25 322.36L461.50 322.51L461.75 322.47L462.00 322.41L462.25 322.19L462.50 322.06L462.75 321.90L463.00 321.69L463.25 321.75L463.50 321.95L463.75 322.10L464.00 322.16L464.25 322.26L464.50 322.25L464.75 322.23L465.00 322.09L465.25 322.03L465.50 322.02L465.75 322.06L466.00 322.01L466.25 322.02L466.50 322.19L466.75 322.26L467.00 322.28L467.25 322.46L467.50 322.51L467.75 322.44L468.00 322.39L468.25 322.19L468.50 322.07L468.75 322.12L469.00 322.07L469.25 322.03L469.50 322.11L469.75 321.99L470.00 322.04L470.25 321.82L470.50 321.84L470.75 321.82L471.00 321.87L471.25 321.82L471.50 321.96L471.75 321.81L472.00 321.67L472.25 321.54L472.50 321.45L472.75 321.45L473.00 321.57L473.25 321.76L473.50 321.94L473.75 321.97L474.00 321.87L474.25 321.87L474.50 321.81L474.75 321.94L475.00 322.06L475.25 322.12L475.50 322.15L475.75 322.32L476.00 322.19L476.25 322.20L476.50 322.30L476.75 322.33L477.00 322.28L477.25 322.21L477.50 322.06L477.75 322.01L478.00 322.08L478.25 322.05L478.50 322.00L478.75 322.15L479.00 322.23L479.25 322.21L479.50 322.21L479.75 322.33L480.00 322.06L480.25 322.04L480.50 321.80L480.75 321.76L481.00 321.91L481.25 322.10L481.50 322.11L481.75 322.22L482.00 322.26L482.25 321.99L482.50 321.95L482.75 321.94L483.00 321.97L483.25 321.84L483.50 321.75L483.75 321.71L484.00 321.61L484.25 321.58L484.50 321.72L484.75 321.77L485.00 321.89L485.25 321.84L485.50 322.11L485.75 322.17L486.00 322.39L486.25 322.25L486.50 322.38L486.75 322.18L487.00 322.02L487.25 321.91L487.50 322.08L487.75 322.08L488.00 322.24L488.25 322.40L488.50 322.44L488.75 322.40L489.00 322.41L489.25 322.13L489.50 322.08L489.75 322.01L490.00 322.08L490.25 322.16L490.50 322.06L490.75 322.02L491.00 322.00L491.25 322.02L491.50 321.92L491.75 322.16L492.00 322.20L492.25 322.21L492.50 322.07L492.75 322.20L493.00 322.12L493.25 322.12L493.50 322.18L493.75 322.37L494.00 322.43L494.25 322.48L494.50 322.41L494.75 322.48L495.00 322.27L495.25 322.09L495.50 322.04L495.75 322.21L496.00 322.36L496.25 322.41L496.50 322.29L496.75 322.21L497.00 322.11L497.25 321.83L497.50 321.73L497.75 321.88L498.00 321.96L498.25 322.02L498.50 321.99L498.75 322.05L499.00 321.93L499.25 321.99L499.50 321.72L499.75 321.79L500.00 321.87L500.25 321.91L500.50 321.92L500.75 322.04L501.00 322.09L501.25 321.97L501.50 322.08L501.75 321.96L502.00 321.99L502.25 322.04L502.50 322.01L502.75 322.03L503.00 322.20L503.25 322.24L503.50 322.00L503.75 322.21L504.00 322.04L504.25 321.96L504.50 321.98L504.75 322.31L505.00 322.17L505.25 322.20L505.50 322.26L505.75 322.36L506.00 322.13L506.25 322.18L506.50 322.26L506.75 322.22L507.00 322.05L507.25 322.17L507.50 322.17L507.75 322.39L508.00 322.21L508.25 322.38L508.50 322.36L508.75 322.22L509.00 321.87L509.25 322.16L509.50 321.87L509.75 322.02L510.00 321.99L510.25 322.16L510.50 321.95L510.75 321.97L511.00 321.75L511.25 322.05L511.50 322.03L511.75 322.14L512.00 322.35L512.25 322.51L512.50 322.26L512.75 322.29L513.00 322.27L513.25 322.15L513.50 321.85L513.75 322.02L514.00 322.05L514.25 322.00L514.50 322.35L514.75 322.44L515.00 322.33L515.25 322.28L515.50 322.26L515.75 321.93L516.00 322.17L516.25 322.10L516.50 321.90L516.75 321.91L517.00 321.82L517.25 321.64L517.50 321.67L517.75 321.84L518.00 322.10L518.25 322.18L518.50 322.41L518.75 322.47L519.00 322.42L519.25 322.03L519.50 322.04L519.75 321.90L520.00 322.14L520.25 322.03L520.50 322.14L520.75 322.09L521.00 322.02L521.25 321.78L521.50 321.86L521.75 321.91L522.00 321.85L522.25 321.78L522.50 321.81L522.75 321.99L523.00 321.94L523.25 321.86L523.50 321.90L523.75 321.88L524.00 321.77L524.25 321.94L524.50 322.01L524.75 322.03L525.00 321.97L525.25 322.13L525.50 322.05L525.75 322.12L526.00 322.07L526.25 322.21L526.50 321.93L526.75 322.01L527.00 322.13L527.25 322.26L527.50 322.19L527.75 322.32L528.00 322.29L528.25 322.18L528.50 322.22L528.75 322.07L529.00 322.19L529.25 322.11L529.50 322.23L529.75 322.18L530.00 322.26L530.25 322.13L530.50 322.09L530.75 322.05L531.00 321.89L531.25 321.81L531.50 321.91L531.75 322.00L532.00 321.84L532.25 322.02L532.50 322.03L532.75 321.95L533.00 321.80L533.25 321.95L533.50 321.89L533.75 322.03L534.00 321.84L534.25 321.85L534.50 321.65L534.75 321.62L535.00 321.59L535.25 321.78L535.50 321.89" fill="none" stroke="#8a3a1c" stroke-width="1.2" stroke-linejoin="round"/>
<path d="M56.00 266.62L56.25 266.63L56.50 266.62L56.75 266.67L57.00 266.72L57.25 266.68L57.50 266.70L57.75 266.67L58.00 266.66L58.25 266.60L58.50 266.65L58.75 266.62L59.00 266.68L59.25 266.64L59.50 266.69L59.75 266.70L60.00 266.73L60.25 266.69L60.50 266.77L60.75 266.75L61.00 266.75L61.25 266.72L61.50 266.75L61.75 266.75L62.00 266.74L62.25 266.67L62.50 266.67L62.75 266.67L63.00 266.61L63.25 266.61L63.50 266.61L63.75 266.62L64.00 266.57L64.25 266.61L64.50 266.65L64.75 266.75L65.00 266.77L65.25 266.82L65.50 266.80L65.75 266.83L66.00 266.72L66.25 266.66L66.50 266.67L66.75 266.65L67.00 266.57L67.25 266.60L67.50 266.65L67.75 266.63L68.00 266.67L68.25 266.69L68.50 266.70L68.75 266.69L69.00 266.66L69.25 266.65L69.50 266.63L69.75 266.67L70.00 266.65L70.25 266.66L70.50 266.63L70.75 266.60L71.00 266.61L71.25 266.59L71.50 266.59L71.75 266.60L72.00 266.68L72.25 266.64L72.50 266.71L72.75 266.73L73.00 266.72L73.25 266.68L73.50 266.75L73.75 266.68L74.00 266.64L74.25 266.62L74.50 266.64L74.75 266.57L75.00 266.63L75.25 266.61L75.50 266.60L75.75 266.65L76.00 266.58L76.25 266.54L76.50 266.52L76.75 266.57L77.00 266.50L77.25 266.59L77.50 266.58L77.75 266.63L78.00 266.58L78.25 266.60L78.50 266.59L78.75 266.60L79.00 266.62L79.25 266.68L79.50 266.76L79.75 266.71L80.00 266.72L80.25 266.69L80.50 266.68L80.75 266.64L81.00 266.73L81.25 266.76L81.50 266.74L81.75 266.70L82.00 266.63L82.25 266.58L82.50 266.49L82.75 266.51L83.00 266.49L83.25 266.51L83.50 266.51L83.75 266.58L84.00 266.58L84.25 266.62L84.50 266.64L84.75 266.62L85.00 266.62L85.25 266.62L85.50 266.64L85.75 266.62L86.00 266.64L86.25 266.60L86.50 266.58L86.75 266.57L87.00 266.60L87.25 266.56L87.50 266.57L87.75 266.61L88.00 266.60L88.25 266.61L88.50 266.67L88.75 266.64L89.00 266.59L89.25 266.64L89.50 266.64L89.75 266.63L90.00 266.66L90.25 266.61L90.50 266.57L90.75 266.50L91.00 266.48L91.25 266.47L91.50 266.53L91.75 266.55L92.00 266.59L92.25 266.57L92.50 266.55L92.75 266.58L93.00 266.62L93.25 266.59L93.50 266.64L93.75 266.68L94.00 266.67L94.25 266.61L94.50 266.67L94.75 266.71L95.00 266.68L95.25 266.64L95.50 266.61L95.75 266.60L96.00 266.58L96.25 266.57L96.50 266.59L96.75 266.63L97.00 266.66L97.25 266.60L97.50 266.63L97.75 266.61L98.00 266.63L98.25 266.59L98.50 266.65L98.75 266.62L99.00 266.62L99.25 266.59L99.50 266.54L99.75 266.54L100.00 266.54L100.25 266.51L100.50 266.53L100.75 266.54L101.00 266.47L101.25 266.46L101.50 266.50L101.75 266.48L102.00 266.47L102.25 266.49L102.50 266.46L102.75 266.51L103.00 266.49L103.25 266.52L103.50 266.57L103.75 266.60L104.00 266.49L104.25 266.56L104.50 266.52L104.75 266.57L105.00 266.55L105.25 266.58L105.50 266.58L105.75 266.59L106.00 266.53L106.25 266.57L106.50 266.58L106.75 266.51L107.00 266.52L107.25 266.54L107.50 266.51L107.75 266.52L108.00 266.60L108.25 266.62L108.50 266.60L108.75 266.66L109.00 266.65L109.25 266.62L109.50 266.57L109.75 266.59L110.00 266.56L110.25 266.57L110.50 266.52L110.75 266.55L111.00 266.53L111.25 266.51L111.50 266.48L111.75 266.53L112.00 266.50L112.25 266.52L112.50 266.52L112.75 266.54L113.00 266.54L113.25 266.57L113.50 266.59L113.75 266.59L114.00 266.60L114.25 266.57L114.50 266.55L114.75 266.47L115.00 266.47L115.25 266.50L115.50 266.52L115.75 266.51L116.00 266.54L116.25 266.52L116.50 266.50L116.75 266.48L117.00 266.47L117.25 266.53L117.50 266.58L117.75 266.57L118.00 266.56L118.25 266.62L118.50 266.62L118.75 266.59L119.00 266.60L119.25 266.63L119.50 266.63L119.75 266.59L120.00 266.60L120.25 266.58L120.50 266.56L120.75 266.53L121.00 266.51L121.25 266.50L121.50 266.48L121.75 266.49L122.00 266.46L122.25 266.46L122.50 266.50L122.75 266.54L123.00 266.58L123.25 266.55L123.50 266.58L123.75 266.52L124.00 266.50L124.25 266.46L124.50 266.53L124.75 266.46L125.00 266.51L125.25 266.45L125.50 266.49L125.75 266.44L126.00 266.52L126.25 266.49L126.50 266.53L126.75 266.49L127.00 266.53L127.25 266.47L127.50 266.47L127.75 266.46L128.00 266.46L128.25 266.48L128.50 266.47L128.75 266.48L129.00 266.48L129.25 266.47L129.50 266.45L129.75 266.47L130.00 266.44L130.25 266.46L130.50 266.47L130.75 266.46L131.00 266.52L131.25 266.55L131.50 266.49L131.75 266.52L132.00 266.49L132.25 266.41L132.50 266.39L132.75 266.45L133.00 266.37L133.25 266.38L133.50 266.37L133.75 266.41L134.00 266.39L134.25 266.43L134.50 266.45L134.75 266.44L135.00 266.39L135.25 266.41L135.50 266.39L135.75 266.39L136.00 266.40L136.25 266.40L136.50 266.34L136.75 266.36L137.00 266.41L137.25 266.43L137.50 266.50L137.75 266.53L138.00 266.52L138.25 266.48L138.50 266.45L138.75 266.41L139.00 266.40L139.25 266.41L139.50 266.34L139.75 266.40L140.00 266.42L140.25 266.44L140.50 266.43L140.75 266.48L141.00 266.45L141.25 266.43L141.50 266.38L141.75 266.35L142.00 266.34L142.25 266.40L142.50 266.38L142.75 266.46L143.00 266.47L143.25 266.39L143.50 266.32L143.75 266.33L144.00 266.32L144.25 266.31L144.50 266.41L144.75 266.39L145.00 266.39L145.25 266.35L145.50 266.34L145.75 266.34L146.00 266.36L146.25 266.32L146.50 266.31L146.75 266.30L147.00 266.26L147.25 266.19L147.50 266.13L147.75 266.05L148.00 266.00L148.25 265.86L148.50 265.69L148.75 265.47L149.00 265.22L149.25 264.90L149.50 264.62L149.75 264.40L150.00 264.30L150.25 264.33L150.50 264.53L150.75 264.75L151.00 265.03L151.25 265.33L151.50 265.56L151.75 265.71L152.00 265.84L152.25 265.96L152.50 266.05L152.75 266.12L153.00 266.18L153.25 266.30L153.50 266.30L153.75 266.30L154.00 266.29L154.25 266.31L154.50 266.28L154.75 266.30L155.00 266.30L155.25 266.26L155.50 266.28L155.75 266.26L156.00 266.28L156.25 266.33L156.50 266.38L156.75 266.32L157.00 266.34L157.25 266.34L157.50 266.37L157.75 266.37L158.00 266.39L158.25 266.49L158.50 266.51L158.75 266.47L159.00 266.44L159.25 266.43L159.50 266.33L159.75 266.31L160.00 266.29L160.25 266.32L160.50 266.35L160.75 266.31L161.00 266.35L161.25 266.31L161.50 266.33L161.75 266.32L162.00 266.30L162.25 266.23L162.50 266.31L162.75 266.24L163.00 266.24L163.25 266.33L163.50 266.33L163.75 266.31L164.00 266.31L164.25 266.32L164.50 266.27L164.75 266.30L165.00 266.26L165.25 266.33L165.50 266.28L165.75 266.32L166.00 266.32L166.25 266.32L166.50 266.29L166.75 266.35L167.00 266.31L167.25 266.30L167.50 266.37L167.75 266.35L168.00 266.30L168.25 266.34L168.50 266.36L168.75 266.29L169.00 266.22L169.25 266.21L169.50 266.00L169.75 265.64L170.00 265.09L170.25 264.51L170.40 264.41L170.50 264.49L170.75 265.04L171.00 265.60L171.25 266.03L171.50 266.07L171.75 266.11L172.00 266.04L172.25 266.08L172.50 266.07L172.75 266.17L173.00 266.14L173.25 266.21L173.50 266.19L173.75 266.18L174.00 266.18L174.25 266.19L174.50 266.20L174.75 266.21L175.00 266.20L175.25 266.12L175.50 266.08L175.75 265.99L176.00 265.87L176.25 265.72L176.50 265.54L176.75 265.22L177.00 264.24L177.25 261.61L177.50 256.87L177.70 254.46L177.75 254.53L178.00 257.99L178.25 261.08L178.50 262.22L178.60 262.44L178.75 262.87L179.00 263.85L179.25 264.81L179.50 265.34L179.75 265.63L180.00 265.76L180.25 265.78L180.50 265.69L180.75 265.59L181.00 265.20L181.25 264.55L181.50 264.07L181.75 264.51L182.00 265.18L182.25 265.50L182.50 265.57L182.75 265.56L183.00 265.45L183.25 265.26L183.50 265.08L183.75 264.78L184.00 264.48L184.25 263.99L184.50 263.21L184.75 261.94L185.00 259.24L185.25 251.10L185.50 229.97L185.75 197.46L185.90 187.06L186.00 190.17L186.25 216.14L186.50 234.27L186.75 240.14L186.80 240.94L187.00 245.12L187.25 251.82L187.50 257.54L187.75 261.16L188.00 263.06L188.25 264.02L188.50 264.61L188.75 264.94L189.00 265.20L189.25 265.40L189.50 265.53L189.75 265.60L190.00 265.70L190.25 265.78L190.50 265.78L190.75 265.82L191.00 265.88L191.25 265.88L191.50 265.85L191.75 265.94L192.00 265.98L192.25 266.01L192.50 265.99L192.75 266.06L193.00 266.07L193.25 266.08L193.50 266.04L193.75 266.13L194.00 266.08L194.25 266.12L194.50 266.15L194.75 266.14L195.00 266.11L195.25 266.15L195.50 266.11L195.75 266.07L196.00 266.10L196.25 266.09L196.50 266.06L196.75 266.01L197.00 266.01L197.25 265.97L197.50 265.95L197.75 265.90L198.00 265.81L198.25 265.65L198.50 265.19L198.75 263.85L199.00 261.16L199.25 258.62L199.30 258.44L199.50 259.49L199.75 261.86L200.00 263.17L200.20 263.62L200.25 263.73L200.50 264.33L200.75 264.98L201.00 265.44L201.25 265.67L201.50 265.76L201.75 265.79L202.00 265.84L202.25 265.84L202.50 265.79L202.75 265.64L203.00 265.25L203.25 264.53L203.50 264.04L203.75 264.45L204.00 265.10L204.25 265.38L204.50 265.44L204.75 265.38L205.00 265.22L205.25 265.08L205.50 264.92L205.75 264.62L206.00 264.11L206.25 263.37L206.50 261.77L206.75 257.69L207.00 245.70L207.25 221.88L207.50 203.29L207.75 217.63L208.00 236.53L208.25 244.13L208.40 246.05L208.50 247.55L208.75 252.59L209.00 257.69L209.25 261.21L209.50 263.23L209.75 264.19L210.00 264.75L210.25 265.07L210.50 265.32L210.75 265.46L211.00 265.59L211.25 265.67L211.50 265.76L211.75 265.79L212.00 265.82L212.25 265.86L212.50 265.84L212.75 265.87L213.00 265.89L213.25 265.98L213.50 265.94L213.75 266.00L214.00 265.96L214.25 265.97L214.50 265.99L214.75 266.04L215.00 266.09L215.25 266.12L215.50 266.15L215.75 266.12L216.00 266.15L216.25 266.15L216.50 266.09L216.75 266.10L217.00 266.13L217.25 266.15L217.50 266.14L217.75 266.19L218.00 266.16L218.25 266.12L218.50 266.10L218.75 266.10L219.00 266.09L219.25 266.07L219.50 266.09L219.75 266.07L220.00 266.05L220.25 266.11L220.50 266.11L220.75 266.12L221.00 266.12L221.25 266.13L221.50 266.06L221.75 266.09L222.00 266.08L222.25 266.03L222.50 266.04L222.75 266.06L223.00 266.01L223.25 266.00L223.50 266.05L223.75 266.01L224.00 266.05L224.25 266.08L224.50 266.06L224.75 266.04L225.00 265.97L225.25 265.89L225.50 265.85L225.75 265.86L226.00 265.85L226.25 265.84L226.50 265.82L226.75 265.75L227.00 265.66L227.25 265.50L227.50 265.18L227.75 264.52L228.00 263.35L228.25 262.11L228.40 261.76L228.50 261.84L228.75 262.78L229.00 263.70L229.25 263.89L229.50 262.86L229.75 260.55L230.00 258.69L230.25 259.67L230.50 261.02L230.75 261.07L230.90 260.33L231.00 259.40L231.25 253.75L231.50 240.59L231.75 226.61L231.80 225.90L232.00 232.18L232.25 245.25L232.50 251.31L232.70 253.10L232.75 253.56L233.00 256.51L233.25 259.71L233.50 262.11L233.75 263.51L234.00 264.16L234.25 264.44L234.50 264.48L234.75 264.18L235.00 263.37L235.25 262.26L235.50 261.60L235.75 262.16L236.00 263.19L236.25 263.94L236.50 264.24L236.75 264.21L237.00 263.96L237.25 263.28L237.50 261.99L237.75 260.31L238.00 259.27L238.25 259.88L238.50 261.11L238.75 261.87L239.00 261.92L239.25 261.45L239.50 260.60L239.75 259.30L240.00 257.42L240.25 254.35L240.50 248.59L240.75 234.24L241.00 197.17L241.25 124.13L241.50 42.92L241.60 30.16L241.75 46.19L242.00 114.64L242.25 162.40L242.50 183.97L242.75 203.85L243.00 225.15L243.25 241.45L243.50 251.34L243.75 256.54L244.00 259.18L244.25 260.72L244.50 261.78L244.75 262.54L245.00 263.16L245.25 263.67L245.50 264.00L245.75 264.29L246.00 264.51L246.25 264.63L246.50 264.79L246.75 264.97L247.00 265.14L247.25 265.23L247.50 265.35L247.75 265.44L248.00 265.46L248.25 265.50L248.50 265.55L248.75 265.57L249.00 265.58L249.25 265.66L249.50 265.69L249.75 265.74L250.00 265.77L250.25 265.81L250.50 265.80L250.75 265.79L251.00 265.81L251.25 265.82L251.50 265.84L251.75 265.86L252.00 265.81L252.25 265.71L252.50 265.58L252.75 265.18L253.00 264.52L253.25 263.70L253.50 263.26L253.75 263.79L254.00 264.74L254.25 265.39L254.50 265.73L254.75 265.85L255.00 265.95L255.25 265.94L255.50 265.97L255.75 265.96L256.00 265.99L256.25 265.98L256.50 266.05L256.75 266.01L257.00 266.03L257.25 266.02L257.50 266.02L257.75 265.98L258.00 266.06L258.25 266.09L258.50 266.11L258.75 266.03L259.00 266.03L259.25 266.04L259.50 266.01L259.75 265.98L260.00 266.01L260.25 266.03L260.50 266.00L260.75 265.96L261.00 265.98L261.25 266.03L261.50 266.06L261.75 266.03L262.00 266.03L262.25 266.03L262.50 265.95L262.75 265.93L263.00 265.91L263.25 265.83L263.50 265.70L263.75 265.42L264.00 264.56L264.25 263.21L264.50 262.30L264.75 263.21L265.00 264.55L265.25 265.31L265.50 265.48L265.75 265.54L266.00 265.50L266.25 265.45L266.50 265.32L266.75 265.16L267.00 264.96L267.25 264.66L267.50 264.14L267.75 263.44L268.00 262.00L268.25 258.00L268.50 246.61L268.75 223.93L269.00 206.22L269.25 219.82L269.50 237.96L269.75 245.18L269.90 247.05L270.00 248.44L270.25 253.28L270.50 258.07L270.75 261.49L271.00 263.37L271.25 264.35L271.50 264.81L271.75 265.08L272.00 265.27L272.25 265.41L272.50 265.50L272.75 265.61L273.00 265.75L273.25 265.81L273.50 265.90L273.75 265.92L274.00 265.97L274.25 265.95L274.50 265.97L274.75 265.99L275.00 266.03L275.25 266.04L275.50 266.12L275.75 266.16L276.00 266.14L276.25 266.13L276.50 266.17L276.75 266.12L277.00 266.11L277.25 266.14L277.50 266.14L277.75 266.12L278.00 266.12L278.25 266.12L278.50 266.12L278.75 266.08L279.00 266.08L279.25 266.13L279.50 266.12L279.75 266.18L280.00 266.25L280.25 266.23L280.50 266.18L280.75 266.21L281.00 266.17L281.25 266.20L281.50 266.24L281.75 266.28L282.00 266.26L282.25 266.22L282.50 266.22L282.75 266.24L283.00 266.22L283.25 266.19L283.50 266.23L283.75 266.23L284.00 266.19L284.25 266.18L284.50 266.19L284.75 266.22L285.00 266.22L285.25 266.21L285.50 266.25L285.75 266.29L286.00 266.32L286.25 266.29L286.50 266.26L286.75 266.21L287.00 266.23L287.25 266.15L287.50 266.09L287.75 266.17L288.00 266.18L288.25 266.11L288.50 266.15L288.75 266.15L289.00 266.13L289.25 266.20L289.50 266.23L289.75 266.17L290.00 266.17L290.25 266.09L290.50 266.05L290.75 266.00L291.00 265.94L291.25 265.85L291.50 265.67L291.75 265.29L292.00 264.44L292.25 262.17L292.50 257.64L292.75 253.28L292.80 253.00L293.00 254.79L293.25 258.87L293.50 261.12L293.70 261.85L293.75 262.03L294.00 263.11L294.25 264.26L294.50 265.05L294.75 265.49L295.00 265.76L295.25 265.95L295.50 266.02L295.75 266.11L296.00 266.23L296.25 266.27L296.50 266.25L296.75 266.23L297.00 266.21L297.25 266.25L297.50 266.28L297.75 266.29L298.00 266.29L298.25 266.32L298.50 266.30L298.75 266.24L299.00 266.26L299.25 266.29L299.50 266.22L299.75 266.19L300.00 266.18L300.25 266.20L300.50 266.20L300.75 266.25L301.00 266.28L301.25 266.32L301.50 266.29L301.75 266.28L302.00 266.22L302.25 266.21L302.50 266.21L302.75 266.19L303.00 266.19L303.25 266.23L303.50 266.24L303.75 266.24L304.00 266.28L304.25 266.32L304.50 266.35L304.75 266.35L305.00 266.32L305.25 266.31L305.50 266.26L305.75 266.21L306.00 266.22L306.25 266.26L306.50 266.25L306.75 266.32L307.00 266.34L307.25 266.33L307.50 266.34L307.75 266.36L308.00 266.30L308.25 266.31L308.50 266.30L308.75 266.25L309.00 266.22L309.25 266.25L309.50 266.22L309.75 266.19L310.00 266.20L310.25 266.23L310.50 266.22L310.75 266.24L311.00 266.30L311.25 266.34L311.50 266.36L311.75 266.36L312.00 266.33L312.25 266.36L312.50 266.37L312.75 266.30L313.00 266.24L313.25 266.25L313.50 266.25L313.75 266.25L314.00 266.21L314.25 266.25L314.50 266.27L314.75 266.20L315.00 266.20L315.25 266.19L315.50 266.18L315.75 266.15L316.00 266.15L316.25 266.06L316.50 266.05L316.75 265.79L317.00 265.17L317.25 263.76L317.50 262.18L317.60 261.99L317.75 262.46L318.00 264.13L318.25 265.36L318.50 265.83L318.75 265.95L319.00 266.08L319.25 266.12L319.50 266.16L319.75 266.23L320.00 266.17L320.25 266.11L320.50 266.13L320.75 266.15L321.00 266.14L321.25 266.22L321.50 266.24L321.75 266.24L322.00 266.20L322.25 266.23L322.50 266.27L322.75 266.30L323.00 266.23L323.25 266.24L323.50 266.23L323.75 266.18L324.00 266.21L324.25 266.24L324.50 266.19L324.75 266.19L325.00 266.17L325.25 266.08L325.50 266.08L325.75 266.08L326.00 266.03L326.25 266.00L326.50 265.99L326.75 265.99L327.00 265.95L327.25 265.91L327.50 265.88L327.75 265.79L328.00 265.62L328.25 265.50L328.50 265.29L328.75 264.92L329.00 264.36L329.25 263.27L329.50 260.12L329.75 251.37L330.00 235.93L330.20 227.90L330.25 228.20L330.50 239.40L330.75 249.71L331.00 253.36L331.10 254.16L331.25 255.57L331.50 258.82L331.75 261.71L332.00 263.63L332.25 264.64L332.50 265.13L332.75 265.39L333.00 265.58L333.25 265.68L333.50 265.76L333.75 265.90L334.00 265.91L334.25 265.91L334.50 265.96L334.75 265.95L335.00 265.85L335.25 265.77L335.50 265.59L335.75 265.18L336.00 264.09L336.25 261.74L336.50 258.90L336.60 258.44L336.75 259.07L337.00 261.53L337.25 263.07L337.50 263.66L337.75 264.33L338.00 264.97L338.25 265.49L338.50 265.79L338.75 265.95L339.00 265.99L339.25 266.10L339.50 266.14L339.75 266.16L340.00 266.23L340.25 266.29L340.50 266.23L340.75 266.19L341.00 266.22L341.25 266.25L341.50 266.21L341.75 266.20L342.00 266.19L342.25 266.23L342.50 266.17L342.75 266.22L343.00 266.29L343.25 266.35L343.50 266.31L343.75 266.36L344.00 266.31L344.25 266.30L344.50 266.27L344.75 266.31L345.00 266.29L345.25 266.35L345.50 266.33L345.75 266.34L346.00 266.34L346.25 266.34L346.50 266.35L346.75 266.39L347.00 266.42L347.25 266.42L347.50 266.44L347.75 266.36L348.00 266.33L348.25 266.27L348.50 266.25L348.75 266.24L349.00 266.30L349.25 266.29L349.50 266.29L349.75 266.32L350.00 266.35L350.25 266.33L350.50 266.37L350.75 266.45L351.00 266.42L351.25 266.38L351.50 266.40L351.75 266.44L352.00 266.37L352.25 266.41L352.50 266.41L352.75 266.40L353.00 266.38L353.25 266.36L353.50 266.34L353.75 266.34L354.00 266.31L354.25 266.28L354.50 266.32L354.75 266.28L355.00 266.28L355.25 266.27L355.50 266.31L355.75 266.31L356.00 266.31L356.25 266.37L356.50 266.39L356.75 266.35L357.00 266.33L357.25 266.34L357.50 266.34L357.75 266.31L358.00 266.30L358.25 266.31L358.50 266.34L358.75 266.33L359.00 266.36L359.25 266.40L359.50 266.39L359.75 266.38L360.00 266.30L360.25 266.30L360.50 266.22L360.75 266.19L361.00 266.17L361.25 266.21L361.50 266.20L361.75 266.23L362.00 266.31L362.25 266.27L362.50 266.28L362.75 266.27L363.00 266.28L363.25 266.20L363.50 266.24L363.75 266.21L364.00 266.15L364.25 266.15L364.50 266.20L364.75 266.08L365.00 265.99L365.25 265.82L365.50 265.19L365.75 263.50L366.00 260.26L366.25 257.04L366.30 256.85L366.50 258.15L366.75 261.06L367.00 262.60L367.20 263.12L367.25 263.27L367.50 264.01L367.75 264.88L368.00 265.48L368.25 265.86L368.50 266.02L368.75 266.17L369.00 266.21L369.25 266.31L369.50 266.31L369.75 266.26L370.00 266.29L370.25 266.31L370.50 266.28L370.75 266.27L371.00 266.35L371.25 266.35L371.50 266.30L371.75 266.27L372.00 266.28L372.25 266.27L372.50 266.29L372.75 266.33L373.00 266.35L373.25 266.37L373.50 266.39L373.75 266.39L374.00 266.39L374.25 266.42L374.50 266.39L374.75 266.34L375.00 266.30L375.25 266.32L375.50 266.32L375.75 266.37L376.00 266.40L376.25 266.41L376.50 266.39L376.75 266.41L377.00 266.41L377.25 266.44L377.50 266.49L377.75 266.55L378.00 266.50L378.25 266.44L378.50 266.36L378.75 266.31L379.00 266.25L379.25 266.26L379.50 266.32L379.75 266.35L380.00 266.40L380.25 266.45L380.50 266.47L380.75 266.40L381.00 266.41L381.25 266.42L381.50 266.41L381.75 266.42L382.00 266.49L382.25 266.48L382.50 266.49L382.75 266.50L383.00 266.44L383.25 266.42L383.50 266.43L383.75 266.37L384.00 266.35L384.25 266.42L384.50 266.44L384.75 266.45L385.00 266.47L385.25 266.45L385.50 266.43L385.75 266.42L386.00 266.41L386.25 266.43L386.50 266.41L386.75 266.41L387.00 266.41L387.25 266.38L387.50 266.37L387.75 266.38L388.00 266.35L388.25 266.36L388.50 266.38L388.75 266.32L389.00 266.31L389.25 266.32L389.50 266.28L389.75 266.26L390.00 266.34L390.25 266.40L390.50 266.41L390.75 266.44L391.00 266.44L391.25 266.38L391.50 266.32L391.75 266.31L392.00 266.33L392.25 266.41L392.50 266.43L392.75 266.43L393.00 266.47L393.25 266.41L393.50 266.42L393.75 266.45L394.00 266.47L394.25 266.45L394.50 266.50L394.75 266.42L395.00 266.39L395.25 266.39L395.50 266.38L395.75 266.30L396.00 266.24L396.25 266.11L396.50 265.81L396.75 265.35L397.00 264.76L397.25 264.36L397.30 264.35L397.50 264.57L397.75 265.14L398.00 265.67L398.25 266.02L398.50 266.22L398.75 266.33L399.00 266.42L399.25 266.43L399.50 266.44L399.75 266.42L400.00 266.43L400.25 266.39L400.50 266.42L400.75 266.43L401.00 266.41L401.25 266.37L401.50 266.34L401.75 266.36L402.00 266.30L402.25 266.36L402.50 266.34L402.75 266.35L403.00 266.37L403.25 266.42L403.50 266.42L403.75 266.44L404.00 266.44L404.25 266.42L404.50 266.44L404.75 266.38L405.00 266.40L405.25 266.42L405.50 266.49L405.75 266.50L406.00 266.50L406.25 266.49L406.50 266.49L406.75 266.41L407.00 266.36L407.25 266.40L407.50 266.43L407.75 266.39L408.00 266.44L408.25 266.42L408.50 266.36L408.75 266.38L409.00 266.34L409.25 266.30L409.50 266.32L409.75 266.36L410.00 266.30L410.25 266.34L410.50 266.38L410.75 266.42L411.00 266.42L411.25 266.42L411.50 266.45L411.75 266.36L412.00 266.29L412.25 266.29L412.50 266.30L412.75 266.31L413.00 266.40L413.25 266.41L413.50 266.40L413.75 266.37L414.00 266.36L414.25 266.31L414.50 266.35L414.75 266.36L415.00 266.45L415.25 266.44L415.50 266.44L415.75 266.46L416.00 266.49L416.25 266.42L416.50 266.38L416.75 266.47L417.00 266.50L417.25 266.48L417.50 266.52L417.75 266.55L418.00 266.48L418.25 266.40L418.50 266.44L418.75 266.44L419.00 266.40L419.25 266.44L419.50 266.46L419.75 266.45L420.00 266.46L420.25 266.49L420.50 266.43L420.75 266.46L421.00 266.45L421.25 266.46L421.50 266.44L421.75 266.49L422.00 266.48L422.25 266.45L422.50 266.44L422.75 266.44L423.00 266.46L423.25 266.49L423.50 266.48L423.75 266.47L424.00 266.48L424.25 266.45L424.50 266.40L424.75 266.38L425.00 266.37L425.25 266.42L425.50 266.39L425.75 266.40L426.00 266.43L426.25 266.46L426.50 266.41L426.75 266.42L427.00 266.40L427.25 266.39L427.50 266.39L427.75 266.40L428.00 266.43L428.25 266.48L428.50 266.51L428.75 266.49L429.00 266.44L429.25 266.46L429.50 266.48L429.75 266.47L430.00 266.42L430.25 266.43L430.50 266.44L430.75 266.45L431.00 266.43L431.25 266.49L431.50 266.49L431.75 266.47L432.00 266.42L432.25 266.41L432.50 266.35L432.75 266.40L433.00 266.35L433.25 266.36L433.50 266.43L433.75 266.48L434.00 266.51L434.25 266.58L434.50 266.60L434.75 266.58L435.00 266.58L435.25 266.52L435.50 266.42L435.75 266.43L436.00 266.39L436.25 266.36L436.50 266.38L436.75 266.37L437.00 266.31L437.25 266.31L437.50 266.24L437.75 266.16L438.00 266.08L438.25 265.82L438.50 265.15L438.75 263.85L439.00 262.08L439.20 261.37L439.25 261.42L439.50 262.78L439.75 264.47L440.00 265.46L440.25 265.88L440.50 266.10L440.75 266.24L441.00 266.31L441.25 266.34L441.50 266.31L441.75 266.20L442.00 266.11L442.25 266.01L442.50 265.72L442.75 265.09L443.00 264.06L443.25 263.16L443.30 263.15L443.50 263.61L443.75 264.77L444.00 265.63L444.25 266.09L444.50 266.22L444.75 266.26L445.00 266.25L445.25 266.26L445.50 266.23L445.75 266.28L446.00 266.36L446.25 266.37L446.50 266.37L446.75 266.41L447.00 266.39L447.25 266.42L447.50 266.44L447.75 266.47L448.00 266.40L448.25 266.37L448.50 266.35L448.75 266.39L449.00 266.37L449.25 266.37L449.50 266.40L449.75 266.38L450.00 266.33L450.25 266.31L450.50 266.34L450.75 266.31L451.00 266.28L451.25 266.26L451.50 266.27L451.75 266.26L452.00 266.24L452.25 266.18L452.50 266.16L452.75 266.12L453.00 266.05L453.25 266.02L453.50 265.96L453.75 265.84L454.00 265.66L454.25 265.48L454.50 265.18L454.75 264.71L455.00 263.84L455.25 261.46L455.50 254.60L455.75 241.06L456.00 230.99L456.25 240.40L456.50 252.76L456.75 256.98L457.00 254.60L457.25 249.47L457.45 247.46L457.50 247.68L457.75 252.39L458.00 258.24L458.25 261.98L458.50 263.77L458.75 264.42L459.00 264.61L459.25 264.54L459.50 264.16L459.75 262.91L460.00 259.17L460.25 250.09L460.50 238.40L460.60 236.72L460.75 240.03L461.00 251.49L461.25 257.97L461.50 257.83L461.75 254.00L462.00 250.80L462.05 250.71L462.25 252.87L462.50 258.01L462.75 262.04L463.00 264.11L463.25 265.03L463.50 265.43L463.75 265.65L464.00 265.78L464.25 265.92L464.50 266.00L464.75 266.09L465.00 266.13L465.25 266.23L465.50 266.19L465.75 266.27L466.00 266.27L466.25 266.33L466.50 266.30L466.75 266.33L467.00 266.30L467.25 266.34L467.50 266.34L467.75 266.39L468.00 266.43L468.25 266.44L468.50 266.46L468.75 266.46L469.00 266.43L469.25 266.47L469.50 266.51L469.75 266.54L470.00 266.56L470.25 266.54L470.50 266.49L470.75 266.45L471.00 266.37L471.25 266.41L471.50 266.42L471.75 266.45L472.00 266.44L472.25 266.49L472.50 266.43L472.75 266.40L473.00 266.45L473.25 266.48L473.50 266.51L473.75 266.53L474.00 266.61L474.25 266.57L474.50 266.56L474.75 266.51L475.00 266.46L475.25 266.44L475.50 266.46L475.75 266.44L476.00 266.44L476.25 266.48L476.50 266.42L476.75 266.43L477.00 266.44L477.25 266.43L477.50 266.42L477.75 266.44L478.00 266.38L478.25 266.43L478.50 266.45L478.75 266.47L479.00 266.42L479.25 266.50L479.50 266.48L479.75 266.44L480.00 266.43L480.25 266.48L480.50 266.46L480.75 266.42L481.00 266.49L481.25 266.51L481.50 266.56L481.75 266.50L482.00 266.53L482.25 266.48L482.50 266.46L482.75 266.43L483.00 266.43L483.25 266.45L483.50 266.47L483.75 266.49L484.00 266.48L484.25 266.50L484.50 266.48L484.75 266.46L485.00 266.47L485.25 266.52L485.50 266.52L485.75 266.52L486.00 266.59L486.25 266.57L486.50 266.52L486.75 266.51L487.00 266.53L487.25 266.53L487.50 266.52L487.75 266.53L488.00 266.57L488.25 266.54L488.50 266.49L488.75 266.52L489.00 266.52L489.25 266.52L489.50 266.54L489.75 266.56L490.00 266.53L490.25 266.58L490.50 266.57L490.75 266.53L491.00 266.51L491.25 266.53L491.50 266.47L491.75 266.49L492.00 266.55L492.25 266.54L492.50 266.54L492.75 266.49L493.00 266.52L493.25 266.53L493.50 266.51L493.75 266.47L494.00 266.55L494.25 266.54L494.50 266.55L494.75 266.56L495.00 266.53L495.25 266.49L495.50 266.45L495.75 266.42L496.00 266.41L496.25 266.44L496.50 266.47L496.75 266.47L497.00 266.45L497.25 266.49L497.50 266.55L497.75 266.57L498.00 266.64L498.25 266.62L498.50 266.59L498.75 266.53L499.00 266.54L499.25 266.49L499.50 266.49L499.75 266.46L500.00 266.49L500.25 266.45L500.50 266.45L500.75 266.49L501.00 266.57L501.25 266.57L501.50 266.59L501.75 266.55L502.00 266.56L502.25 266.49L502.50 266.50L502.75 266.43L503.00 266.44L503.25 266.39L503.50 266.36L503.75 266.30L504.00 266.32L504.25 266.25L504.50 266.18L504.75 266.02L505.00 265.66L505.25 264.64L505.50 262.32L505.75 259.14L505.90 258.22L506.00 258.58L506.25 261.43L506.50 263.72L506.75 264.06L507.00 263.20L507.25 262.14L507.35 262.05L507.50 262.34L507.75 263.77L508.00 264.98L508.25 265.65L508.50 265.87L508.75 265.96L509.00 265.99L509.25 265.97L509.50 265.90L509.75 265.49L510.00 264.30L510.25 261.69L510.50 258.66L510.60 258.19L510.75 259.03L511.00 262.06L511.25 263.92L511.50 264.00L511.75 262.94L512.00 262.05L512.05 262.02L512.25 262.72L512.50 264.18L512.75 265.29L513.00 265.90L513.25 266.15L513.50 266.26L513.75 266.34L514.00 266.44L514.25 266.47L514.50 266.52L514.75 266.49L515.00 266.49L515.25 266.49L515.50 266.44L515.75 266.39L516.00 266.45L516.25 266.48L516.50 266.44L516.75 266.52L517.00 266.57L517.25 266.51L517.50 266.50L517.75 266.55L518.00 266.53L518.25 266.49L518.50 266.51L518.75 266.50L519.00 266.49L519.25 266.50L519.50 266.52L519.75 266.58L520.00 266.56L520.25 266.60L520.50 266.55L520.75 266.61L521.00 266.55L521.25 266.57L521.50 266.49L521.75 266.55L522.00 266.49L522.25 266.53L522.50 266.56L522.75 266.64L523.00 266.67L523.25 266.67L523.50 266.67L523.75 266.66L524.00 266.63L524.25 266.62L524.50 266.67L524.75 266.63L525.00 266.59L525.25 266.58L525.50 266.63L525.75 266.59L526.00 266.63L526.25 266.65L526.50 266.68L526.75 266.61L527.00 266.63L527.25 266.59L527.50 266.63L527.75 266.62L528.00 266.64L528.25 266.63L528.50 266.61L528.75 266.58L529.00 266.52L529.25 266.46L529.50 266.42L529.75 266.43L530.00 266.44L530.25 266.43L530.50 266.47L530.75 266.34L531.00 265.96L531.25 265.15L531.50 264.03L531.70 263.50L531.75 263.52L532.00 264.38L532.25 265.41L532.50 266.02L532.75 266.28L533.00 266.38L533.25 266.40L533.50 266.38L533.75 266.42L534.00 266.47L534.25 266.52L534.50 266.48L534.75 266.51L535.00 266.49L535.25 266.47L535.50 266.47" fill="none" stroke="#2a1fd6" stroke-width="1.3" stroke-linejoin="round"/>
<g stroke="#111" stroke-width="1.5" fill="none"><line x1="56.0" y1="419.1" x2="56.0" y2="424.7" stroke-width="1.5"/><line x1="64.0" y1="419.1" x2="64.0" y2="422.5" stroke-width="1.2"/><line x1="72.0" y1="419.1" x2="72.0" y2="422.5" stroke-width="1.2"/><line x1="80.0" y1="419.1" x2="80.0" y2="422.5" stroke-width="1.2"/><line x1="88.0" y1="419.1" x2="88.0" y2="422.5" stroke-width="1.2"/><line x1="96.0" y1="419.1" x2="96.0" y2="424.7" stroke-width="1.5"/><line x1="104.0" y1="419.1" x2="104.0" y2="422.5" stroke-width="1.2"/><line x1="112.0" y1="419.1" x2="112.0" y2="422.5" stroke-width="1.2"/><line x1="120.0" y1="419.1" x2="120.0" y2="422.5" stroke-width="1.2"/><line x1="128.0" y1="419.1" x2="128.0" y2="422.5" stroke-width="1.2"/><line x1="136.0" y1="419.1" x2="136.0" y2="424.7" stroke-width="1.5"/><line x1="144.0" y1="419.1" x2="144.0" y2="422.5" stroke-width="1.2"/><line x1="152.0" y1="419.1" x2="152.0" y2="422.5" stroke-width="1.2"/><line x1="160.0" y1="419.1" x2="160.0" y2="422.5" stroke-width="1.2"/><line x1="168.0" y1="419.1" x2="168.0" y2="422.5" stroke-width="1.2"/><line x1="176.0" y1="419.1" x2="176.0" y2="424.7" stroke-width="1.5"/><line x1="184.0" y1="419.1" x2="184.0" y2="422.5" stroke-width="1.2"/><line x1="192.0" y1="419.1" x2="192.0" y2="422.5" stroke-width="1.2"/><line x1="200.0" y1="419.1" x2="200.0" y2="422.5" stroke-width="1.2"/><line x1="208.0" y1="419.1" x2="208.0" y2="422.5" stroke-width="1.2"/><line x1="216.0" y1="419.1" x2="216.0" y2="424.7" stroke-width="1.5"/><line x1="224.0" y1="419.1" x2="224.0" y2="422.5" stroke-width="1.2"/><line x1="232.0" y1="419.1" x2="232.0" y2="422.5" stroke-width="1.2"/><line x1="240.0" y1="419.1" x2="240.0" y2="422.5" stroke-width="1.2"/><line x1="248.0" y1="419.1" x2="248.0" y2="422.5" stroke-width="1.2"/><line x1="256.0" y1="419.1" x2="256.0" y2="424.7" stroke-width="1.5"/><line x1="264.0" y1="419.1" x2="264.0" y2="422.5" stroke-width="1.2"/><line x1="272.0" y1="419.1" x2="272.0" y2="422.5" stroke-width="1.2"/><line x1="280.0" y1="419.1" x2="280.0" y2="422.5" stroke-width="1.2"/><line x1="288.0" y1="419.1" x2="288.0" y2="422.5" stroke-width="1.2"/><line x1="296.0" y1="419.1" x2="296.0" y2="424.7" stroke-width="1.5"/><line x1="304.0" y1="419.1" x2="304.0" y2="422.5" stroke-width="1.2"/><line x1="312.0" y1="419.1" x2="312.0" y2="422.5" stroke-width="1.2"/><line x1="320.0" y1="419.1" x2="320.0" y2="422.5" stroke-width="1.2"/><line x1="328.0" y1="419.1" x2="328.0" y2="422.5" stroke-width="1.2"/><line x1="336.0" y1="419.1" x2="336.0" y2="424.7" stroke-width="1.5"/><line x1="344.0" y1="419.1" x2="344.0" y2="422.5" stroke-width="1.2"/><line x1="352.0" y1="419.1" x2="352.0" y2="422.5" stroke-width="1.2"/><line x1="360.0" y1="419.1" x2="360.0" y2="422.5" stroke-width="1.2"/><line x1="368.0" y1="419.1" x2="368.0" y2="422.5" stroke-width="1.2"/><line x1="376.0" y1="419.1" x2="376.0" y2="424.7" stroke-width="1.5"/><line x1="384.0" y1="419.1" x2="384.0" y2="422.5" stroke-width="1.2"/><line x1="392.0" y1="419.1" x2="392.0" y2="422.5" stroke-width="1.2"/><line x1="400.0" y1="419.1" x2="400.0" y2="422.5" stroke-width="1.2"/><line x1="408.0" y1="419.1" x2="408.0" y2="422.5" stroke-width="1.2"/><line x1="416.0" y1="419.1" x2="416.0" y2="424.7" stroke-width="1.5"/><line x1="424.0" y1="419.1" x2="424.0" y2="422.5" stroke-width="1.2"/><line x1="432.0" y1="419.1" x2="432.0" y2="422.5" stroke-width="1.2"/><line x1="440.0" y1="419.1" x2="440.0" y2="422.5" stroke-width="1.2"/><line x1="448.0" y1="419.1" x2="448.0" y2="422.5" stroke-width="1.2"/><line x1="456.0" y1="419.1" x2="456.0" y2="424.7" stroke-width="1.5"/><line x1="464.0" y1="419.1" x2="464.0" y2="422.5" stroke-width="1.2"/><line x1="472.0" y1="419.1" x2="472.0" y2="422.5" stroke-width="1.2"/><line x1="480.0" y1="419.1" x2="480.0" y2="422.5" stroke-width="1.2"/><line x1="488.0" y1="419.1" x2="488.0" y2="422.5" stroke-width="1.2"/><line x1="496.0" y1="419.1" x2="496.0" y2="424.7" stroke-width="1.5"/><line x1="504.0" y1="419.1" x2="504.0" y2="422.5" stroke-width="1.2"/><line x1="512.0" y1="419.1" x2="512.0" y2="422.5" stroke-width="1.2"/><line x1="520.0" y1="419.1" x2="520.0" y2="422.5" stroke-width="1.2"/><line x1="528.0" y1="419.1" x2="528.0" y2="422.5" stroke-width="1.2"/><line x1="535.5" y1="419.1" x2="535.5" y2="424.7" stroke-width="1.5"/><line x1="52.6" y1="6.80" x2="56.0" y2="6.80" stroke-width="1.25"/><line x1="49.6" y1="25.50" x2="56.0" y2="25.50" stroke-width="1.5"/><line x1="52.6" y1="44.20" x2="56.0" y2="44.20" stroke-width="1.25"/><line x1="49.6" y1="62.90" x2="56.0" y2="62.90" stroke-width="1.5"/><line x1="52.6" y1="81.60" x2="56.0" y2="81.60" stroke-width="1.25"/><line x1="49.6" y1="100.30" x2="56.0" y2="100.30" stroke-width="1.5"/><line x1="52.6" y1="119.00" x2="56.0" y2="119.00" stroke-width="1.25"/><line x1="49.6" y1="137.70" x2="56.0" y2="137.70" stroke-width="1.5"/><line x1="52.6" y1="156.40" x2="56.0" y2="156.40" stroke-width="1.25"/><line x1="49.6" y1="175.10" x2="56.0" y2="175.10" stroke-width="1.5"/><line x1="52.6" y1="193.80" x2="56.0" y2="193.80" stroke-width="1.25"/><line x1="49.6" y1="212.50" x2="56.0" y2="212.50" stroke-width="1.5"/><line x1="52.6" y1="231.20" x2="56.0" y2="231.20" stroke-width="1.25"/><line x1="49.6" y1="249.90" x2="56.0" y2="249.90" stroke-width="1.5"/><line x1="52.6" y1="268.60" x2="56.0" y2="268.60" stroke-width="1.25"/><line x1="49.6" y1="287.30" x2="56.0" y2="287.30" stroke-width="1.5"/><line x1="52.6" y1="306.00" x2="56.0" y2="306.00" stroke-width="1.25"/><line x1="49.6" y1="324.70" x2="56.0" y2="324.70" stroke-width="1.5"/><line x1="52.6" y1="343.40" x2="56.0" y2="343.40" stroke-width="1.25"/><line x1="49.6" y1="362.10" x2="56.0" y2="362.10" stroke-width="1.5"/><line x1="52.6" y1="380.80" x2="56.0" y2="380.80" stroke-width="1.25"/><line x1="49.6" y1="399.50" x2="56.0" y2="399.50" stroke-width="1.5"/><line x1="52.6" y1="418.20" x2="56.0" y2="418.20" stroke-width="1.25"/></g>
<g stroke="#0d0d0d" fill="none"><line x1="55.85" y1="5.7" x2="55.85" y2="420.0" stroke-width="1.75"/><line x1="55.1" y1="419.1" x2="536.2" y2="419.1" stroke-width="1.8"/><line x1="55.1" y1="6.4" x2="536.2" y2="6.4" stroke-width="1.4"/><line x1="535.5" y1="5.7" x2="535.5" y2="420.0" stroke-width="1.4"/></g>
<rect x="490.1" y="5.8" width="46.1" height="26.1" fill="#060606"/>
<text x="513.0" y="25.3" font-size="17.5" font-weight="bold" fill="#fff" text-anchor="middle">XRD</text>
<text x="77.6" y="28.45" font-size="16.7" class="k">reactants</text>
<g font-size="14" class="k" text-anchor="middle"><text x="56.0" y="440.2">20</text><text x="96.0" y="440.2">25</text><text x="136.0" y="440.2">30</text><text x="176.0" y="440.2">35</text><text x="216.0" y="440.2">40</text><text x="256.0" y="440.2">45</text><text x="296.0" y="440.2">50</text><text x="336.0" y="440.2">55</text><text x="376.0" y="440.2">60</text><text x="416.0" y="440.2">65</text><text x="456.0" y="440.2">70</text><text x="496.0" y="440.2">75</text><text x="536.0" y="440.2">80</text></g>
<text transform="translate(294.9 465.3) scale(1.03 1)" font-size="16" class="k" text-anchor="middle">2Theta [deg]</text>
<text transform="translate(24.3 223.3) rotate(-90) scale(1.027 1)" font-size="16" class="k" text-anchor="middle">Intensity [a.u.]</text>
<text transform="translate(445.3 222.9) scale(1.012 1)" font-size="16.1" fill="#1a14c8" stroke="#1a14c8">Zn powder</text>
<g fill="#c0281e" stroke="#c0281e"><text transform="translate(391.95 312.1) scale(1.047 1)" font-size="16">KMnO</text><text transform="translate(439.3 319.4) scale(0.92 1)" font-size="9.8">4</text><text transform="translate(449.8 312.1) scale(1.031 1)" font-size="16">ball-milled</text></g>
<g class="k"><text transform="translate(472.15 382.1) scale(1.048 1)" font-size="16">KMnO</text><text transform="translate(520.2 388.2) scale(0.85 1)" font-size="10">4</text></g>
<g class="pk"><text x="236.3" y="22.7" class="lb">$</text><text x="244.9" y="28.5" class="sb">1</text><text x="181.8" y="179.5" class="lb">$</text><text x="189.9" y="185.5" class="sb">1</text><text x="201.8" y="194.4" class="lb">$</text><text x="209.9" y="200.4" class="sb">1</text><text x="226.0" y="218.4" class="lb">$</text><text x="234.4" y="225.3" class="sb">1</text><text x="326.5" y="222.0" class="lb">$</text><text x="334.7" y="227.8" class="sb">1</text><text x="169.5" y="244.9" class="lb">$</text><text x="176.7" y="250.9" class="sb">2</text><text x="191.3" y="251.6" class="lb">$</text><text x="199.0" y="257.8" class="sb">2</text><text x="218.0" y="249.3" class="lb">$</text><text x="225.4" y="255.5" class="sb">2</text><text x="313.3" y="253.5" class="lb">$</text><text x="320.9" y="259.6" class="sb">2</text><text x="269.1" y="200.0" class="lb" text-anchor="middle">#</text><text x="293.0" y="245.8" class="lb" text-anchor="middle">#</text><text x="363.2" y="253.6" class="lb" text-anchor="middle">#</text></g>
<g class="lg"><text x="409.4" y="55.5" class="lb">$</text><text x="417.8" y="61.9" class="sb">1</text><text x="421.9" y="55.5" class="lb">/$</text><text x="433.4" y="61.9" class="sb">2</text><text x="442.2" y="55.5" class="lb">- Zn phases</text>
<text x="409.6" y="81.3" class="lb"># - impurity</text>
</g>
</svg>
</body></html>
